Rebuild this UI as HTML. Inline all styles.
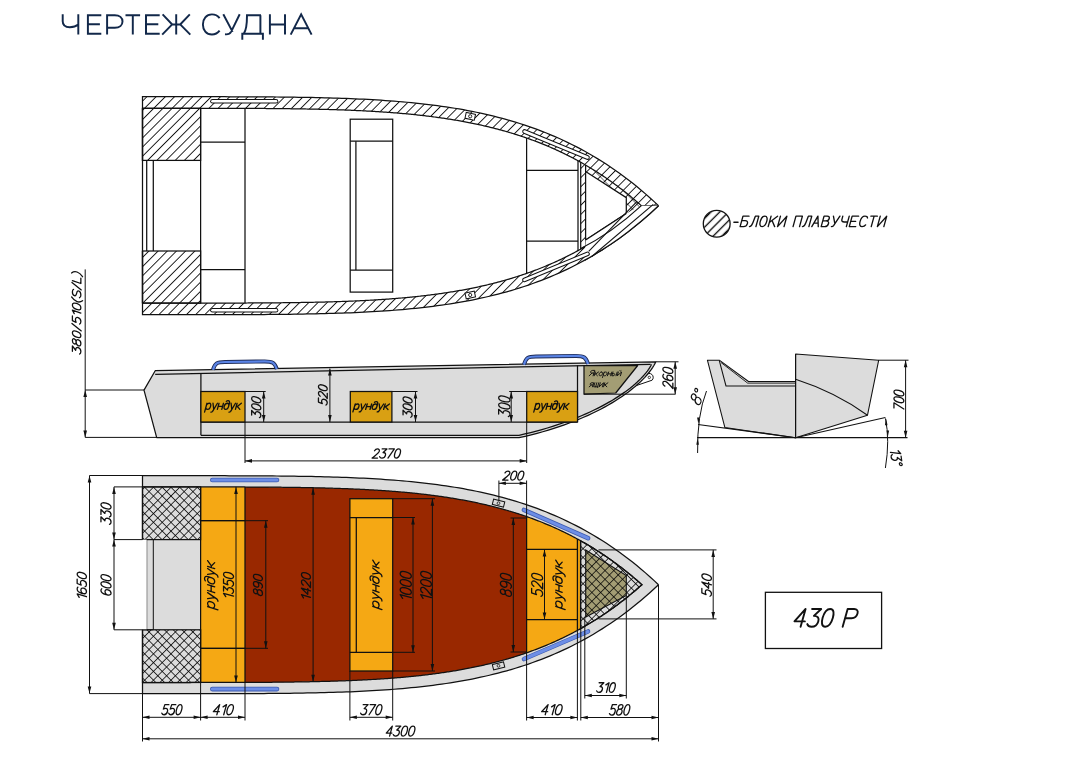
<!DOCTYPE html>
<html><head><meta charset="utf-8">
<style>
html,body{margin:0;padding:0;background:#fff;}
body{width:1069px;height:772px;overflow:hidden;position:relative;}
svg{position:absolute;left:0;top:0;}
.t{font-family:"Liberation Sans",sans-serif;}
</style></head><body>
<svg width="1069" height="772" viewBox="0 0 1069 772">
<defs>
<pattern id="h45" patternUnits="userSpaceOnUse" width="6.5" height="6.5" patternTransform="translate(4,0) rotate(45)"><line x1="0" y1="-1" x2="0" y2="8" stroke="#000" stroke-width="1.7"/></pattern>
<pattern id="h135" patternUnits="userSpaceOnUse" width="6.5" height="6.5" patternTransform="rotate(-45)"><line x1="0" y1="-1" x2="0" y2="8" stroke="#161616" stroke-width="1.1"/></pattern>
<pattern id="xh" patternUnits="userSpaceOnUse" width="6.2" height="6.2" patternTransform="rotate(45)"><rect width="6.2" height="6.2" fill="#dcdcdc"/><line x1="0" y1="-1" x2="0" y2="8" stroke="#000" stroke-width="1.5"/><line x1="-1" y1="0" x2="8" y2="0" stroke="#000" stroke-width="1.5"/></pattern>
<pattern id="hleg" patternUnits="userSpaceOnUse" width="6.2" height="6.2" patternTransform="translate(716.7,223.8) rotate(45) translate(-3.1,0)"><line x1="3.1" y1="-1" x2="3.1" y2="8" stroke="#000" stroke-width="1.3"/></pattern>
<pattern id="xho" patternUnits="userSpaceOnUse" width="6.2" height="6.2" patternTransform="rotate(45)"><rect width="6.2" height="6.2" fill="#a39d74"/><line x1="0" y1="-1" x2="0" y2="8" stroke="#000" stroke-width="1.4"/><line x1="-1" y1="0" x2="8" y2="0" stroke="#000" stroke-width="1.4"/></pattern>
</defs>
<path d="M62.7,14.3 V21.3 C62.7,25.3 65.3,27.3 69.8,27.3 C73.3,27.3 76.3,26.3 78.3,24.6 M78.3,14.3 V34.6 M101.3,15.25 H87.9 V33.65 H101.3 M87.9,24.3 H99.9 M107.1,34.6 V15.25 H114.8 C119.6,15.25 122.5,17.9 122.5,21.5 C122.5,25.1 119.6,27.8 114.8,27.8 H107.1 M125.5,15.25 H140.1 M132.8,15.25 V34.6 M159.7,15.25 H146 V33.65 H159.7 M146,24.3 H158.3 M176.2,14.3 V34.6 M162.6,14.3 L172.2,24.4 H180.2 L189.8,14.3 M162.2,34.6 L172.2,24.4 M190.3,34.6 L180.2,24.4 M219.6,18.2 C217.7,15.7 215,14.4 211.9,14.4 C206.3,14.4 202.9,18.9 202.9,24.45 C202.9,30 206.3,34.5 211.9,34.5 C215,34.5 217.7,33.2 219.6,30.7 M223.3,14.3 L232.6,31.9 M239.7,14.3 L231.2,31.6 C229.9,34.1 228.4,34.7 225,34.3 M261,15.25 H247 C247,24 246.5,30 243.8,33.6 M260.4,15.25 V33.65 M242.3,39.7 V33.65 H262.9 V39.7 M269.9,14.3 V34.6 M285,14.3 V34.6 M269.9,24.5 H285 M290.7,34.6 L301.15,14.3 L311.6,34.6 M293.9,28.3 H308.4" fill="none" stroke="#12284a" stroke-width="1.95" stroke-linejoin="miter"/>
<path d="M142.50,96.70 146.84,96.70 151.17,96.70 155.51,96.70 159.84,96.70 164.18,96.70 168.52,96.70 172.85,96.70 177.19,96.70 181.53,96.70 185.86,96.70 190.20,96.70 194.53,96.71 198.87,96.71 203.21,96.71 207.54,96.72 211.88,96.72 216.21,96.73 220.55,96.73 224.89,96.74 229.22,96.75 233.56,96.76 237.89,96.77 242.23,96.79 246.57,96.80 250.90,96.82 255.24,96.84 259.58,96.87 263.91,96.89 268.25,96.92 272.58,96.96 276.92,97.00 281.26,97.04 285.59,97.09 289.93,97.14 294.26,97.20 298.60,97.26 302.94,97.33 307.27,97.41 311.61,97.49 315.95,97.58 320.28,97.68 324.62,97.79 328.95,97.91 333.29,98.03 337.63,98.17 341.96,98.32 346.30,98.47 350.63,98.64 354.97,98.83 359.31,99.02 363.64,99.23 367.98,99.46 372.32,99.70 376.65,99.95 380.99,100.22 385.32,100.51 389.66,100.82 394.00,101.15 398.33,101.50 402.67,101.86 407.00,102.25 411.34,102.67 415.68,103.10 420.01,103.56 424.35,104.05 428.68,104.56 433.02,105.10 437.36,105.67 441.69,106.27 446.03,106.90 450.37,107.56 454.70,108.25 459.04,108.98 463.37,109.74 467.71,110.54 472.05,111.38 476.38,112.26 480.72,113.18 485.05,114.14 489.39,115.14 493.73,116.19 498.06,117.29 502.40,118.43 506.74,119.62 511.07,120.86 515.41,122.15 519.74,123.50 524.08,124.90 528.42,126.36 532.75,127.87 537.09,129.45 541.42,131.09 545.76,132.79 550.10,134.56 554.43,136.39 558.77,138.30 563.11,140.27 567.44,142.32 571.78,144.44 576.11,146.63 580.45,148.91 584.79,151.27 589.12,153.70 593.46,156.23 597.79,158.84 602.13,161.53 606.47,164.32 610.80,167.20 615.14,170.18 619.47,173.26 623.81,176.43 628.15,179.71 632.48,183.09 636.82,186.57 641.16,190.17 645.49,193.88 649.83,197.70 654.16,201.64 658.50,205.70 658.50,205.70 654.16,209.76 649.83,213.70 645.49,217.52 641.16,221.23 636.82,224.83 632.48,228.31 628.15,231.69 623.81,234.97 619.47,238.14 615.14,241.22 610.80,244.20 606.47,247.08 602.13,249.87 597.79,252.56 593.46,255.17 589.12,257.70 584.79,260.13 580.45,262.49 576.11,264.77 571.78,266.96 567.44,269.08 563.11,271.13 558.77,273.10 554.43,275.01 550.10,276.84 545.76,278.61 541.42,280.31 537.09,281.95 532.75,283.53 528.42,285.04 524.08,286.50 519.74,287.90 515.41,289.25 511.07,290.54 506.74,291.78 502.40,292.97 498.06,294.11 493.73,295.21 489.39,296.26 485.05,297.26 480.72,298.22 476.38,299.14 472.05,300.02 467.71,300.86 463.37,301.66 459.04,302.42 454.70,303.15 450.37,303.84 446.03,304.50 441.69,305.13 437.36,305.73 433.02,306.30 428.68,306.84 424.35,307.35 420.01,307.84 415.68,308.30 411.34,308.73 407.00,309.15 402.67,309.54 398.33,309.90 394.00,310.25 389.66,310.58 385.32,310.89 380.99,311.18 376.65,311.45 372.32,311.70 367.98,311.94 363.64,312.17 359.31,312.38 354.97,312.57 350.63,312.76 346.30,312.93 341.96,313.08 337.63,313.23 333.29,313.37 328.95,313.49 324.62,313.61 320.28,313.72 315.95,313.82 311.61,313.91 307.27,313.99 302.94,314.07 298.60,314.14 294.26,314.20 289.93,314.26 285.59,314.31 281.26,314.36 276.92,314.40 272.58,314.44 268.25,314.48 263.91,314.51 259.58,314.53 255.24,314.56 250.90,314.58 246.57,314.60 242.23,314.61 237.89,314.63 233.56,314.64 229.22,314.65 224.89,314.66 220.55,314.67 216.21,314.67 211.88,314.68 207.54,314.68 203.21,314.69 198.87,314.69 194.53,314.69 190.20,314.70 185.86,314.70 181.53,314.70 177.19,314.70 172.85,314.70 168.52,314.70 164.18,314.70 159.84,314.70 155.51,314.70 151.17,314.70 146.84,314.70 142.50,314.70Z M142.50,303.10 143.79,303.10 145.09,303.10 146.38,303.10 147.67,303.10 148.97,303.10 150.26,303.10 151.55,303.10 152.85,303.10 154.14,303.10 155.43,303.10 156.73,303.10 158.02,303.10 159.31,303.10 160.60,303.10 161.90,303.10 163.19,303.10 164.48,303.10 165.78,303.10 167.07,303.10 168.36,303.10 169.66,303.10 170.95,303.10 172.24,303.10 173.54,303.10 174.83,303.10 176.12,303.10 177.42,303.10 178.71,303.10 180.00,303.10 181.29,303.10 182.59,303.10 183.88,303.10 185.17,303.10 186.47,303.10 187.76,303.10 189.05,303.10 190.35,303.10 191.64,303.09 192.93,303.09 194.22,303.09 195.52,303.09 196.81,303.09 198.10,303.09 199.40,303.09 200.69,303.09 201.98,303.09 203.27,303.09 204.57,303.09 205.86,303.09 207.15,303.08 208.44,303.08 209.74,303.08 211.03,303.08 212.32,303.08 213.61,303.08 214.91,303.08 216.20,303.07 217.49,303.07 218.78,303.07 220.08,303.07 221.37,303.07 222.66,303.06 223.95,303.06 225.24,303.06 226.54,303.06 227.83,303.05 229.12,303.05 230.41,303.05 231.70,303.05 233.00,303.04 234.29,303.04 235.58,303.04 236.87,303.03 238.16,303.03 239.46,303.02 240.75,303.02 242.04,303.01 243.33,303.01 244.62,303.01 245.91,303.00 247.20,303.00 248.50,302.99 249.79,302.98 251.08,302.98 252.37,302.97 253.66,302.97 254.95,302.96 256.24,302.95 257.53,302.95 258.82,302.94 260.11,302.93 261.40,302.92 262.70,302.91 263.99,302.91 265.28,302.90 266.57,302.89 267.86,302.88 269.15,302.87 270.44,302.86 271.73,302.85 273.02,302.84 274.31,302.83 275.60,302.81 276.89,302.80 278.18,302.79 279.47,302.78 280.76,302.76 282.05,302.75 283.34,302.74 284.62,302.72 285.91,302.71 287.20,302.69 288.49,302.68 289.78,302.66 291.07,302.64 292.36,302.63 293.65,302.61 294.94,302.59 296.22,302.57 297.51,302.55 298.80,302.53 300.09,302.51 301.38,302.49 302.67,302.47 303.95,302.45 305.24,302.43 306.53,302.40 307.82,302.38 309.10,302.36 310.39,302.33 311.68,302.30 312.97,302.28 314.25,302.25 315.54,302.22 316.83,302.19 318.11,302.17 319.40,302.14 320.69,302.10 321.97,302.07 323.26,302.04 324.54,302.01 325.83,301.97 327.12,301.94 328.40,301.90 329.69,301.87 330.97,301.83 332.26,301.79 333.54,301.75 334.83,301.71 336.11,301.67 337.40,301.63 338.68,301.59 339.97,301.55 341.25,301.50 342.54,301.46 343.82,301.41 345.10,301.36 346.39,301.31 347.67,301.26 348.96,301.21 350.24,301.16 351.52,301.11 352.80,301.06 354.09,301.00 355.37,300.94 356.65,300.89 357.94,300.83 359.22,300.77 360.50,300.71 361.78,300.65 363.06,300.58 364.35,300.52 365.63,300.45 366.91,300.38 368.19,300.32 369.47,300.25 370.75,300.17 372.03,300.10 373.31,300.03 374.59,299.95 375.87,299.87 377.15,299.80 378.43,299.72 379.71,299.63 380.99,299.55 382.27,299.47 383.55,299.38 384.83,299.29 386.11,299.20 387.38,299.11 388.66,299.02 389.94,298.93 391.22,298.83 392.50,298.73 393.77,298.63 395.05,298.53 396.33,298.43 397.60,298.32 398.88,298.22 400.16,298.11 401.43,298.00 402.71,297.89 403.99,297.77 405.26,297.66 406.54,297.54 407.81,297.42 409.09,297.30 410.36,297.17 411.64,297.05 412.91,296.92 414.18,296.79 415.46,296.66 416.73,296.52 418.01,296.39 419.28,296.25 420.55,296.11 421.82,295.96 423.10,295.82 424.37,295.67 425.64,295.52 426.91,295.37 428.19,295.21 429.46,295.06 430.73,294.90 432.00,294.74 433.27,294.57 434.54,294.40 435.81,294.23 437.08,294.06 438.35,293.89 439.62,293.71 440.89,293.53 442.16,293.35 443.43,293.16 444.70,292.97 445.96,292.78 447.23,292.59 448.50,292.39 449.77,292.19 451.04,291.99 452.30,291.79 453.57,291.58 454.84,291.37 456.10,291.15 457.37,290.94 458.63,290.72 459.90,290.49 461.17,290.27 462.43,290.04 463.70,289.80 464.96,289.57 466.23,289.33 467.49,289.09 468.75,288.84 470.02,288.59 471.28,288.34 472.54,288.09 473.81,287.83 475.07,287.56 476.33,287.30 477.60,287.03 478.86,286.75 480.12,286.48 481.38,286.20 482.64,285.91 483.90,285.63 485.16,285.33 486.42,285.04 487.68,284.74 488.94,284.44 490.20,284.13 491.46,283.82 492.72,283.50 493.98,283.19 495.24,282.86 496.50,282.54 497.76,282.21 499.02,281.87 500.28,281.53 501.53,281.19 502.79,280.84 504.05,280.49 505.31,280.13 506.56,279.77 507.82,279.41 509.08,279.04 510.33,278.66 511.59,278.29 512.84,277.90 514.10,277.52 515.35,277.12 516.61,276.73 517.86,276.33 519.12,275.92 520.37,275.51 521.63,275.09 522.88,274.67 524.14,274.25 525.39,273.82 526.64,273.38 527.90,272.94 529.15,272.49 530.40,272.04 531.66,271.59 532.91,271.13 534.16,270.66 535.41,270.19 536.67,269.71 537.92,269.23 539.17,268.74 540.42,268.25 541.67,267.75 542.92,267.24 544.18,266.73 545.43,266.22 546.68,265.70 547.93,265.17 549.18,264.64 550.43,264.10 551.68,263.55 552.93,263.00 554.18,262.45 555.43,261.88 556.68,261.32 557.93,260.74 559.18,260.16 560.43,259.57 561.68,258.98 562.93,258.38 564.18,257.77 565.43,257.16 566.68,256.54 567.93,255.92 569.18,255.28 570.43,254.64 571.68,254.00 572.93,253.35 574.18,252.69 575.43,252.02 576.68,251.35 577.92,250.67 579.17,249.98 580.42,249.29 581.67,248.59 582.92,247.88 584.17,247.16 585.42,246.44 586.67,245.71 587.92,244.97 589.17,244.23 590.42,243.47 591.67,242.71 592.92,241.95 594.16,241.17 595.41,240.39 596.66,239.60 597.91,238.80 599.16,237.99 600.41,237.18 601.66,236.35 602.91,235.52 604.16,234.68 605.41,233.84 606.66,232.98 607.91,232.12 609.16,231.24 610.41,230.36 611.66,229.47 612.91,228.57 614.17,227.67 615.42,226.75 616.67,225.83 617.92,224.89 619.17,223.95 620.42,223.00 621.67,222.04 622.93,221.07 624.18,220.09 625.43,219.10 626.68,218.11 627.93,217.10 629.19,216.08 630.44,215.06 631.69,214.02 632.95,212.98 634.20,211.92 635.45,210.86 636.71,209.78 637.96,208.70 639.21,207.60 640.47,206.50 641.37,205.70 641.37,205.70 640.47,204.90 639.21,203.80 637.96,202.70 636.71,201.62 635.45,200.54 634.20,199.48 632.95,198.42 631.69,197.38 630.44,196.34 629.19,195.32 627.93,194.30 626.68,193.29 625.43,192.30 624.18,191.31 622.93,190.33 621.67,189.36 620.42,188.40 619.17,187.45 617.92,186.51 616.67,185.57 615.42,184.65 614.17,183.73 612.91,182.83 611.66,181.93 610.41,181.04 609.16,180.16 607.91,179.28 606.66,178.42 605.41,177.56 604.16,176.72 602.91,175.88 601.66,175.05 600.41,174.22 599.16,173.41 597.91,172.60 596.66,171.80 595.41,171.01 594.16,170.23 592.92,169.45 591.67,168.69 590.42,167.93 589.17,167.17 587.92,166.43 586.67,165.69 585.42,164.96 584.17,164.24 582.92,163.52 581.67,162.81 580.42,162.11 579.17,161.42 577.92,160.73 576.68,160.05 575.43,159.38 574.18,158.71 572.93,158.05 571.68,157.40 570.43,156.76 569.18,156.12 567.93,155.48 566.68,154.86 565.43,154.24 564.18,153.63 562.93,153.02 561.68,152.42 560.43,151.83 559.18,151.24 557.93,150.66 556.68,150.08 555.43,149.52 554.18,148.95 552.93,148.40 551.68,147.85 550.43,147.30 549.18,146.76 547.93,146.23 546.68,145.70 545.43,145.18 544.18,144.67 542.92,144.16 541.67,143.65 540.42,143.15 539.17,142.66 537.92,142.17 536.67,141.69 535.41,141.21 534.16,140.74 532.91,140.27 531.66,139.81 530.40,139.36 529.15,138.91 527.90,138.46 526.64,138.02 525.39,137.58 524.14,137.15 522.88,136.73 521.63,136.31 520.37,135.89 519.12,135.48 517.86,135.07 516.61,134.67 515.35,134.28 514.10,133.88 512.84,133.50 511.59,133.11 510.33,132.74 509.08,132.36 507.82,131.99 506.56,131.63 505.31,131.27 504.05,130.91 502.79,130.56 501.53,130.21 500.28,129.87 499.02,129.53 497.76,129.19 496.50,128.86 495.24,128.54 493.98,128.21 492.72,127.90 491.46,127.58 490.20,127.27 488.94,126.96 487.68,126.66 486.42,126.36 485.16,126.07 483.90,125.77 482.64,125.49 481.38,125.20 480.12,124.92 478.86,124.65 477.60,124.37 476.33,124.10 475.07,123.84 473.81,123.57 472.54,123.31 471.28,123.06 470.02,122.81 468.75,122.56 467.49,122.31 466.23,122.07 464.96,121.83 463.70,121.60 462.43,121.36 461.17,121.13 459.90,120.91 458.63,120.68 457.37,120.46 456.10,120.25 454.84,120.03 453.57,119.82 452.30,119.61 451.04,119.41 449.77,119.21 448.50,119.01 447.23,118.81 445.96,118.62 444.70,118.43 443.43,118.24 442.16,118.05 440.89,117.87 439.62,117.69 438.35,117.51 437.08,117.34 435.81,117.17 434.54,117.00 433.27,116.83 432.00,116.66 430.73,116.50 429.46,116.34 428.19,116.19 426.91,116.03 425.64,115.88 424.37,115.73 423.10,115.58 421.82,115.44 420.55,115.29 419.28,115.15 418.01,115.01 416.73,114.88 415.46,114.74 414.18,114.61 412.91,114.48 411.64,114.35 410.36,114.23 409.09,114.10 407.81,113.98 406.54,113.86 405.26,113.74 403.99,113.63 402.71,113.51 401.43,113.40 400.16,113.29 398.88,113.18 397.60,113.08 396.33,112.97 395.05,112.87 393.77,112.77 392.50,112.67 391.22,112.57 389.94,112.47 388.66,112.38 387.38,112.29 386.11,112.20 384.83,112.11 383.55,112.02 382.27,111.93 380.99,111.85 379.71,111.77 378.43,111.68 377.15,111.60 375.87,111.53 374.59,111.45 373.31,111.37 372.03,111.30 370.75,111.23 369.47,111.15 368.19,111.08 366.91,111.02 365.63,110.95 364.35,110.88 363.06,110.82 361.78,110.75 360.50,110.69 359.22,110.63 357.94,110.57 356.65,110.51 355.37,110.46 354.09,110.40 352.80,110.34 351.52,110.29 350.24,110.24 348.96,110.19 347.67,110.14 346.39,110.09 345.10,110.04 343.82,109.99 342.54,109.94 341.25,109.90 339.97,109.85 338.68,109.81 337.40,109.77 336.11,109.73 334.83,109.69 333.54,109.65 332.26,109.61 330.97,109.57 329.69,109.53 328.40,109.50 327.12,109.46 325.83,109.43 324.54,109.39 323.26,109.36 321.97,109.33 320.69,109.30 319.40,109.26 318.11,109.23 316.83,109.21 315.54,109.18 314.25,109.15 312.97,109.12 311.68,109.10 310.39,109.07 309.10,109.04 307.82,109.02 306.53,109.00 305.24,108.97 303.95,108.95 302.67,108.93 301.38,108.91 300.09,108.89 298.80,108.87 297.51,108.85 296.22,108.83 294.94,108.81 293.65,108.79 292.36,108.77 291.07,108.76 289.78,108.74 288.49,108.72 287.20,108.71 285.91,108.69 284.62,108.68 283.34,108.66 282.05,108.65 280.76,108.64 279.47,108.62 278.18,108.61 276.89,108.60 275.60,108.59 274.31,108.57 273.02,108.56 271.73,108.55 270.44,108.54 269.15,108.53 267.86,108.52 266.57,108.51 265.28,108.50 263.99,108.49 262.70,108.49 261.40,108.48 260.11,108.47 258.82,108.46 257.53,108.45 256.24,108.45 254.95,108.44 253.66,108.43 252.37,108.43 251.08,108.42 249.79,108.42 248.50,108.41 247.20,108.40 245.91,108.40 244.62,108.39 243.33,108.39 242.04,108.39 240.75,108.38 239.46,108.38 238.16,108.37 236.87,108.37 235.58,108.36 234.29,108.36 233.00,108.36 231.70,108.35 230.41,108.35 229.12,108.35 227.83,108.35 226.54,108.34 225.24,108.34 223.95,108.34 222.66,108.34 221.37,108.33 220.08,108.33 218.78,108.33 217.49,108.33 216.20,108.33 214.91,108.32 213.61,108.32 212.32,108.32 211.03,108.32 209.74,108.32 208.44,108.32 207.15,108.32 205.86,108.31 204.57,108.31 203.27,108.31 201.98,108.31 200.69,108.31 199.40,108.31 198.10,108.31 196.81,108.31 195.52,108.31 194.22,108.31 192.93,108.31 191.64,108.31 190.35,108.30 189.05,108.30 187.76,108.30 186.47,108.30 185.17,108.30 183.88,108.30 182.59,108.30 181.29,108.30 180.00,108.30 178.71,108.30 177.42,108.30 176.12,108.30 174.83,108.30 173.54,108.30 172.24,108.30 170.95,108.30 169.66,108.30 168.36,108.30 167.07,108.30 165.78,108.30 164.48,108.30 163.19,108.30 161.90,108.30 160.60,108.30 159.31,108.30 158.02,108.30 156.73,108.30 155.43,108.30 154.14,108.30 152.85,108.30 151.55,108.30 150.26,108.30 148.97,108.30 147.67,108.30 146.38,108.30 145.09,108.30 143.79,108.30 142.50,108.30Z" fill="url(#h45)" fill-rule="evenodd"/>
<rect x="142.5" y="108.30" width="58.1" height="52.10" fill="url(#h45)" stroke="#111111" stroke-width="1.25"/>
<rect x="142.5" y="251" width="58.1" height="52.10" fill="url(#h45)" stroke="#111111" stroke-width="1.25"/>
<polyline points="142.50,160.40 142.50,96.70 146.84,96.70 151.17,96.70 155.51,96.70 159.84,96.70 164.18,96.70 168.52,96.70 172.85,96.70 177.19,96.70 181.53,96.70 185.86,96.70 190.20,96.70 194.53,96.71 198.87,96.71 203.21,96.71 207.54,96.72 211.88,96.72 216.21,96.73 220.55,96.73 224.89,96.74 229.22,96.75 233.56,96.76 237.89,96.77 242.23,96.79 246.57,96.80 250.90,96.82 255.24,96.84 259.58,96.87 263.91,96.89 268.25,96.92 272.58,96.96 276.92,97.00 281.26,97.04 285.59,97.09 289.93,97.14 294.26,97.20 298.60,97.26 302.94,97.33 307.27,97.41 311.61,97.49 315.95,97.58 320.28,97.68 324.62,97.79 328.95,97.91 333.29,98.03 337.63,98.17 341.96,98.32 346.30,98.47 350.63,98.64 354.97,98.83 359.31,99.02 363.64,99.23 367.98,99.46 372.32,99.70 376.65,99.95 380.99,100.22 385.32,100.51 389.66,100.82 394.00,101.15 398.33,101.50 402.67,101.86 407.00,102.25 411.34,102.67 415.68,103.10 420.01,103.56 424.35,104.05 428.68,104.56 433.02,105.10 437.36,105.67 441.69,106.27 446.03,106.90 450.37,107.56 454.70,108.25 459.04,108.98 463.37,109.74 467.71,110.54 472.05,111.38 476.38,112.26 480.72,113.18 485.05,114.14 489.39,115.14 493.73,116.19 498.06,117.29 502.40,118.43 506.74,119.62 511.07,120.86 515.41,122.15 519.74,123.50 524.08,124.90 528.42,126.36 532.75,127.87 537.09,129.45 541.42,131.09 545.76,132.79 550.10,134.56 554.43,136.39 558.77,138.30 563.11,140.27 567.44,142.32 571.78,144.44 576.11,146.63 580.45,148.91 584.79,151.27 589.12,153.70 593.46,156.23 597.79,158.84 602.13,161.53 606.47,164.32 610.80,167.20 615.14,170.18 619.47,173.26 623.81,176.43 628.15,179.71 632.48,183.09 636.82,186.57 641.16,190.17 645.49,193.88 649.83,197.70 654.16,201.64 658.50,205.70" fill="none" stroke="#111111" stroke-width="1.25"/>
<polyline points="658.50,205.70 654.16,209.76 649.83,213.70 645.49,217.52 641.16,221.23 636.82,224.83 632.48,228.31 628.15,231.69 623.81,234.97 619.47,238.14 615.14,241.22 610.80,244.20 606.47,247.08 602.13,249.87 597.79,252.56 593.46,255.17 589.12,257.70 584.79,260.13 580.45,262.49 576.11,264.77 571.78,266.96 567.44,269.08 563.11,271.13 558.77,273.10 554.43,275.01 550.10,276.84 545.76,278.61 541.42,280.31 537.09,281.95 532.75,283.53 528.42,285.04 524.08,286.50 519.74,287.90 515.41,289.25 511.07,290.54 506.74,291.78 502.40,292.97 498.06,294.11 493.73,295.21 489.39,296.26 485.05,297.26 480.72,298.22 476.38,299.14 472.05,300.02 467.71,300.86 463.37,301.66 459.04,302.42 454.70,303.15 450.37,303.84 446.03,304.50 441.69,305.13 437.36,305.73 433.02,306.30 428.68,306.84 424.35,307.35 420.01,307.84 415.68,308.30 411.34,308.73 407.00,309.15 402.67,309.54 398.33,309.90 394.00,310.25 389.66,310.58 385.32,310.89 380.99,311.18 376.65,311.45 372.32,311.70 367.98,311.94 363.64,312.17 359.31,312.38 354.97,312.57 350.63,312.76 346.30,312.93 341.96,313.08 337.63,313.23 333.29,313.37 328.95,313.49 324.62,313.61 320.28,313.72 315.95,313.82 311.61,313.91 307.27,313.99 302.94,314.07 298.60,314.14 294.26,314.20 289.93,314.26 285.59,314.31 281.26,314.36 276.92,314.40 272.58,314.44 268.25,314.48 263.91,314.51 259.58,314.53 255.24,314.56 250.90,314.58 246.57,314.60 242.23,314.61 237.89,314.63 233.56,314.64 229.22,314.65 224.89,314.66 220.55,314.67 216.21,314.67 211.88,314.68 207.54,314.68 203.21,314.69 198.87,314.69 194.53,314.69 190.20,314.70 185.86,314.70 181.53,314.70 177.19,314.70 172.85,314.70 168.52,314.70 164.18,314.70 159.84,314.70 155.51,314.70 151.17,314.70 146.84,314.70 142.50,314.70 142.50,251.00" fill="none" stroke="#111111" stroke-width="1.25"/>
<polygon points="142.50,108.30 143.79,108.30 145.09,108.30 146.38,108.30 147.67,108.30 148.97,108.30 150.26,108.30 151.55,108.30 152.85,108.30 154.14,108.30 155.43,108.30 156.73,108.30 158.02,108.30 159.31,108.30 160.60,108.30 161.90,108.30 163.19,108.30 164.48,108.30 165.78,108.30 167.07,108.30 168.36,108.30 169.66,108.30 170.95,108.30 172.24,108.30 173.54,108.30 174.83,108.30 176.12,108.30 177.42,108.30 178.71,108.30 180.00,108.30 181.29,108.30 182.59,108.30 183.88,108.30 185.17,108.30 186.47,108.30 187.76,108.30 189.05,108.30 190.35,108.30 191.64,108.31 192.93,108.31 194.22,108.31 195.52,108.31 196.81,108.31 198.10,108.31 199.40,108.31 200.69,108.31 201.98,108.31 203.27,108.31 204.57,108.31 205.86,108.31 207.15,108.32 208.44,108.32 209.74,108.32 211.03,108.32 212.32,108.32 213.61,108.32 214.91,108.32 216.20,108.33 217.49,108.33 218.78,108.33 220.08,108.33 221.37,108.33 222.66,108.34 223.95,108.34 225.24,108.34 226.54,108.34 227.83,108.35 229.12,108.35 230.41,108.35 231.70,108.35 233.00,108.36 234.29,108.36 235.58,108.36 236.87,108.37 238.16,108.37 239.46,108.38 240.75,108.38 242.04,108.39 243.33,108.39 244.62,108.39 245.91,108.40 247.20,108.40 248.50,108.41 249.79,108.42 251.08,108.42 252.37,108.43 253.66,108.43 254.95,108.44 256.24,108.45 257.53,108.45 258.82,108.46 260.11,108.47 261.40,108.48 262.70,108.49 263.99,108.49 265.28,108.50 266.57,108.51 267.86,108.52 269.15,108.53 270.44,108.54 271.73,108.55 273.02,108.56 274.31,108.57 275.60,108.59 276.89,108.60 278.18,108.61 279.47,108.62 280.76,108.64 282.05,108.65 283.34,108.66 284.62,108.68 285.91,108.69 287.20,108.71 288.49,108.72 289.78,108.74 291.07,108.76 292.36,108.77 293.65,108.79 294.94,108.81 296.22,108.83 297.51,108.85 298.80,108.87 300.09,108.89 301.38,108.91 302.67,108.93 303.95,108.95 305.24,108.97 306.53,109.00 307.82,109.02 309.10,109.04 310.39,109.07 311.68,109.10 312.97,109.12 314.25,109.15 315.54,109.18 316.83,109.21 318.11,109.23 319.40,109.26 320.69,109.30 321.97,109.33 323.26,109.36 324.54,109.39 325.83,109.43 327.12,109.46 328.40,109.50 329.69,109.53 330.97,109.57 332.26,109.61 333.54,109.65 334.83,109.69 336.11,109.73 337.40,109.77 338.68,109.81 339.97,109.85 341.25,109.90 342.54,109.94 343.82,109.99 345.10,110.04 346.39,110.09 347.67,110.14 348.96,110.19 350.24,110.24 351.52,110.29 352.80,110.34 354.09,110.40 355.37,110.46 356.65,110.51 357.94,110.57 359.22,110.63 360.50,110.69 361.78,110.75 363.06,110.82 364.35,110.88 365.63,110.95 366.91,111.02 368.19,111.08 369.47,111.15 370.75,111.23 372.03,111.30 373.31,111.37 374.59,111.45 375.87,111.53 377.15,111.60 378.43,111.68 379.71,111.77 380.99,111.85 382.27,111.93 383.55,112.02 384.83,112.11 386.11,112.20 387.38,112.29 388.66,112.38 389.94,112.47 391.22,112.57 392.50,112.67 393.77,112.77 395.05,112.87 396.33,112.97 397.60,113.08 398.88,113.18 400.16,113.29 401.43,113.40 402.71,113.51 403.99,113.63 405.26,113.74 406.54,113.86 407.81,113.98 409.09,114.10 410.36,114.23 411.64,114.35 412.91,114.48 414.18,114.61 415.46,114.74 416.73,114.88 418.01,115.01 419.28,115.15 420.55,115.29 421.82,115.44 423.10,115.58 424.37,115.73 425.64,115.88 426.91,116.03 428.19,116.19 429.46,116.34 430.73,116.50 432.00,116.66 433.27,116.83 434.54,117.00 435.81,117.17 437.08,117.34 438.35,117.51 439.62,117.69 440.89,117.87 442.16,118.05 443.43,118.24 444.70,118.43 445.96,118.62 447.23,118.81 448.50,119.01 449.77,119.21 451.04,119.41 452.30,119.61 453.57,119.82 454.84,120.03 456.10,120.25 457.37,120.46 458.63,120.68 459.90,120.91 461.17,121.13 462.43,121.36 463.70,121.60 464.96,121.83 466.23,122.07 467.49,122.31 468.75,122.56 470.02,122.81 471.28,123.06 472.54,123.31 473.81,123.57 475.07,123.84 476.33,124.10 477.60,124.37 478.86,124.65 480.12,124.92 481.38,125.20 482.64,125.49 483.90,125.77 485.16,126.07 486.42,126.36 487.68,126.66 488.94,126.96 490.20,127.27 491.46,127.58 492.72,127.90 493.98,128.21 495.24,128.54 496.50,128.86 497.76,129.19 499.02,129.53 500.28,129.87 501.53,130.21 502.79,130.56 504.05,130.91 505.31,131.27 506.56,131.63 507.82,131.99 509.08,132.36 510.33,132.74 511.59,133.11 512.84,133.50 514.10,133.88 515.35,134.28 516.61,134.67 517.86,135.07 519.12,135.48 520.37,135.89 521.63,136.31 522.88,136.73 524.14,137.15 525.39,137.58 526.64,138.02 527.90,138.46 529.15,138.91 530.40,139.36 531.66,139.81 532.91,140.27 534.16,140.74 535.41,141.21 536.67,141.69 537.92,142.17 539.17,142.66 540.42,143.15 541.67,143.65 542.92,144.16 544.18,144.67 545.43,145.18 546.68,145.70 547.93,146.23 549.18,146.76 550.43,147.30 551.68,147.85 552.93,148.40 554.18,148.95 555.43,149.52 556.68,150.08 557.93,150.66 559.18,151.24 560.43,151.83 561.68,152.42 562.93,153.02 564.18,153.63 565.43,154.24 566.68,154.86 567.93,155.48 569.18,156.12 570.43,156.76 571.68,157.40 572.93,158.05 574.18,158.71 575.43,159.38 576.68,160.05 577.92,160.73 579.17,161.42 580.42,162.11 581.67,162.81 582.92,163.52 584.17,164.24 585.42,164.96 586.67,165.69 587.92,166.43 589.17,167.17 590.42,167.93 591.67,168.69 592.92,169.45 594.16,170.23 595.41,171.01 596.66,171.80 597.91,172.60 599.16,173.41 600.41,174.22 601.66,175.05 602.91,175.88 604.16,176.72 605.41,177.56 606.66,178.42 607.91,179.28 609.16,180.16 610.41,181.04 611.66,181.93 612.91,182.83 614.17,183.73 615.42,184.65 616.67,185.57 617.92,186.51 619.17,187.45 620.42,188.40 621.67,189.36 622.93,190.33 624.18,191.31 625.43,192.30 626.68,193.29 627.93,194.30 629.19,195.32 630.44,196.34 631.69,197.38 632.95,198.42 634.20,199.48 635.45,200.54 636.71,201.62 637.96,202.70 639.21,203.80 640.47,204.90 641.37,205.70 641.37,205.70 640.47,206.50 639.21,207.60 637.96,208.70 636.71,209.78 635.45,210.86 634.20,211.92 632.95,212.98 631.69,214.02 630.44,215.06 629.19,216.08 627.93,217.10 626.68,218.11 625.43,219.10 624.18,220.09 622.93,221.07 621.67,222.04 620.42,223.00 619.17,223.95 617.92,224.89 616.67,225.83 615.42,226.75 614.17,227.67 612.91,228.57 611.66,229.47 610.41,230.36 609.16,231.24 607.91,232.12 606.66,232.98 605.41,233.84 604.16,234.68 602.91,235.52 601.66,236.35 600.41,237.18 599.16,237.99 597.91,238.80 596.66,239.60 595.41,240.39 594.16,241.17 592.92,241.95 591.67,242.71 590.42,243.47 589.17,244.23 587.92,244.97 586.67,245.71 585.42,246.44 584.17,247.16 582.92,247.88 581.67,248.59 580.42,249.29 579.17,249.98 577.92,250.67 576.68,251.35 575.43,252.02 574.18,252.69 572.93,253.35 571.68,254.00 570.43,254.64 569.18,255.28 567.93,255.92 566.68,256.54 565.43,257.16 564.18,257.77 562.93,258.38 561.68,258.98 560.43,259.57 559.18,260.16 557.93,260.74 556.68,261.32 555.43,261.88 554.18,262.45 552.93,263.00 551.68,263.55 550.43,264.10 549.18,264.64 547.93,265.17 546.68,265.70 545.43,266.22 544.18,266.73 542.92,267.24 541.67,267.75 540.42,268.25 539.17,268.74 537.92,269.23 536.67,269.71 535.41,270.19 534.16,270.66 532.91,271.13 531.66,271.59 530.40,272.04 529.15,272.49 527.90,272.94 526.64,273.38 525.39,273.82 524.14,274.25 522.88,274.67 521.63,275.09 520.37,275.51 519.12,275.92 517.86,276.33 516.61,276.73 515.35,277.12 514.10,277.52 512.84,277.90 511.59,278.29 510.33,278.66 509.08,279.04 507.82,279.41 506.56,279.77 505.31,280.13 504.05,280.49 502.79,280.84 501.53,281.19 500.28,281.53 499.02,281.87 497.76,282.21 496.50,282.54 495.24,282.86 493.98,283.19 492.72,283.50 491.46,283.82 490.20,284.13 488.94,284.44 487.68,284.74 486.42,285.04 485.16,285.33 483.90,285.63 482.64,285.91 481.38,286.20 480.12,286.48 478.86,286.75 477.60,287.03 476.33,287.30 475.07,287.56 473.81,287.83 472.54,288.09 471.28,288.34 470.02,288.59 468.75,288.84 467.49,289.09 466.23,289.33 464.96,289.57 463.70,289.80 462.43,290.04 461.17,290.27 459.90,290.49 458.63,290.72 457.37,290.94 456.10,291.15 454.84,291.37 453.57,291.58 452.30,291.79 451.04,291.99 449.77,292.19 448.50,292.39 447.23,292.59 445.96,292.78 444.70,292.97 443.43,293.16 442.16,293.35 440.89,293.53 439.62,293.71 438.35,293.89 437.08,294.06 435.81,294.23 434.54,294.40 433.27,294.57 432.00,294.74 430.73,294.90 429.46,295.06 428.19,295.21 426.91,295.37 425.64,295.52 424.37,295.67 423.10,295.82 421.82,295.96 420.55,296.11 419.28,296.25 418.01,296.39 416.73,296.52 415.46,296.66 414.18,296.79 412.91,296.92 411.64,297.05 410.36,297.17 409.09,297.30 407.81,297.42 406.54,297.54 405.26,297.66 403.99,297.77 402.71,297.89 401.43,298.00 400.16,298.11 398.88,298.22 397.60,298.32 396.33,298.43 395.05,298.53 393.77,298.63 392.50,298.73 391.22,298.83 389.94,298.93 388.66,299.02 387.38,299.11 386.11,299.20 384.83,299.29 383.55,299.38 382.27,299.47 380.99,299.55 379.71,299.63 378.43,299.72 377.15,299.80 375.87,299.87 374.59,299.95 373.31,300.03 372.03,300.10 370.75,300.17 369.47,300.25 368.19,300.32 366.91,300.38 365.63,300.45 364.35,300.52 363.06,300.58 361.78,300.65 360.50,300.71 359.22,300.77 357.94,300.83 356.65,300.89 355.37,300.94 354.09,301.00 352.80,301.06 351.52,301.11 350.24,301.16 348.96,301.21 347.67,301.26 346.39,301.31 345.10,301.36 343.82,301.41 342.54,301.46 341.25,301.50 339.97,301.55 338.68,301.59 337.40,301.63 336.11,301.67 334.83,301.71 333.54,301.75 332.26,301.79 330.97,301.83 329.69,301.87 328.40,301.90 327.12,301.94 325.83,301.97 324.54,302.01 323.26,302.04 321.97,302.07 320.69,302.10 319.40,302.14 318.11,302.17 316.83,302.19 315.54,302.22 314.25,302.25 312.97,302.28 311.68,302.30 310.39,302.33 309.10,302.36 307.82,302.38 306.53,302.40 305.24,302.43 303.95,302.45 302.67,302.47 301.38,302.49 300.09,302.51 298.80,302.53 297.51,302.55 296.22,302.57 294.94,302.59 293.65,302.61 292.36,302.63 291.07,302.64 289.78,302.66 288.49,302.68 287.20,302.69 285.91,302.71 284.62,302.72 283.34,302.74 282.05,302.75 280.76,302.76 279.47,302.78 278.18,302.79 276.89,302.80 275.60,302.81 274.31,302.83 273.02,302.84 271.73,302.85 270.44,302.86 269.15,302.87 267.86,302.88 266.57,302.89 265.28,302.90 263.99,302.91 262.70,302.91 261.40,302.92 260.11,302.93 258.82,302.94 257.53,302.95 256.24,302.95 254.95,302.96 253.66,302.97 252.37,302.97 251.08,302.98 249.79,302.98 248.50,302.99 247.20,303.00 245.91,303.00 244.62,303.01 243.33,303.01 242.04,303.01 240.75,303.02 239.46,303.02 238.16,303.03 236.87,303.03 235.58,303.04 234.29,303.04 233.00,303.04 231.70,303.05 230.41,303.05 229.12,303.05 227.83,303.05 226.54,303.06 225.24,303.06 223.95,303.06 222.66,303.06 221.37,303.07 220.08,303.07 218.78,303.07 217.49,303.07 216.20,303.07 214.91,303.08 213.61,303.08 212.32,303.08 211.03,303.08 209.74,303.08 208.44,303.08 207.15,303.08 205.86,303.09 204.57,303.09 203.27,303.09 201.98,303.09 200.69,303.09 199.40,303.09 198.10,303.09 196.81,303.09 195.52,303.09 194.22,303.09 192.93,303.09 191.64,303.09 190.35,303.10 189.05,303.10 187.76,303.10 186.47,303.10 185.17,303.10 183.88,303.10 182.59,303.10 181.29,303.10 180.00,303.10 178.71,303.10 177.42,303.10 176.12,303.10 174.83,303.10 173.54,303.10 172.24,303.10 170.95,303.10 169.66,303.10 168.36,303.10 167.07,303.10 165.78,303.10 164.48,303.10 163.19,303.10 161.90,303.10 160.60,303.10 159.31,303.10 158.02,303.10 156.73,303.10 155.43,303.10 154.14,303.10 152.85,303.10 151.55,303.10 150.26,303.10 148.97,303.10 147.67,303.10 146.38,303.10 145.09,303.10 143.79,303.10 142.50,303.10" fill="none" stroke="#111111" stroke-width="1.25" stroke-linejoin="round"/>
<line x1="146.7" y1="160.4" x2="146.7" y2="251" stroke="#111111" stroke-width="1.25" />
<line x1="153.3" y1="160.4" x2="153.3" y2="251" stroke="#111111" stroke-width="1.25" />
<line x1="200.6" y1="108.30000281634065" x2="200.6" y2="303.0999971836593" stroke="#111111" stroke-width="1.25" />
<line x1="245" y1="108.30000281634065" x2="245" y2="303.0999971836593" stroke="#111111" stroke-width="1.25" />
<line x1="200.6" y1="142" x2="245" y2="142" stroke="#111111" stroke-width="1.25" />
<line x1="200.6" y1="269.6" x2="245" y2="269.6" stroke="#111111" stroke-width="1.25" />
<rect x="350.2" y="119.2" width="42.5" height="172.9" fill="none" stroke="#111111" stroke-width="1.25"/>
<line x1="350.2" y1="141.2" x2="392.7" y2="141.2" stroke="#111111" stroke-width="1.25" />
<line x1="350.2" y1="270.1" x2="392.7" y2="270.1" stroke="#111111" stroke-width="1.25" />
<line x1="355.9" y1="141.2" x2="355.9" y2="270.1" stroke="#111111" stroke-width="1.25" />
<line x1="526.6" y1="138.00459970364176" x2="526.6" y2="273.3954002963582" stroke="#111111" stroke-width="1.25" />
<line x1="526.6" y1="170.4" x2="578" y2="170.4" stroke="#111111" stroke-width="1.25" />
<line x1="526.6" y1="241.0" x2="578" y2="241.0" stroke="#111111" stroke-width="1.25" />
<rect x="580.7" y="165.07" width="4.9" height="81.27" fill="url(#h45)"/>
<line x1="578" y1="160.77240100075687" x2="578" y2="250.6275989992431" stroke="#111111" stroke-width="1.25" />
<line x1="580.7" y1="162.26735955208494" x2="580.7" y2="249.13264044791504" stroke="#111111" stroke-width="1.25" />
<line x1="585.6" y1="165.0651162355319" x2="585.6" y2="246.3348837644681" stroke="#111111" stroke-width="1.25" />
<path d="M585.60,165.07 586.67,165.69 587.92,166.43 589.17,167.17 590.42,167.93 591.67,168.69 592.92,169.45 594.16,170.23 595.41,171.01 596.66,171.80 597.91,172.60 599.16,173.41 600.41,174.22 601.66,175.05 602.91,175.88 604.16,176.72 605.41,177.56 606.66,178.42 607.91,179.28 609.16,180.16 610.41,181.04 611.66,181.93 612.91,182.83 614.17,183.73 615.42,184.65 616.67,185.57 617.92,186.51 619.17,187.45 620.42,188.40 621.67,189.36 622.93,190.33 624.18,191.31 625.43,192.30 626.68,193.29 627.93,194.30 629.19,195.32 630.44,196.34 631.69,197.38 632.95,198.42 634.20,199.48 635.45,200.54 636.71,201.62 637.96,202.70 639.21,203.80 640.47,204.90 641.37,205.70 641.37,205.70 640.47,206.50 639.21,207.60 637.96,208.70 636.71,209.78 635.45,210.86 634.20,211.92 632.95,212.98 631.69,214.02 630.44,215.06 629.19,216.08 627.93,217.10 626.68,218.11 625.43,219.10 624.18,220.09 622.93,221.07 621.67,222.04 620.42,223.00 619.17,223.95 617.92,224.89 616.67,225.83 615.42,226.75 614.17,227.67 612.91,228.57 611.66,229.47 610.41,230.36 609.16,231.24 607.91,232.12 606.66,232.98 605.41,233.84 604.16,234.68 602.91,235.52 601.66,236.35 600.41,237.18 599.16,237.99 597.91,238.80 596.66,239.60 595.41,240.39 594.16,241.17 592.92,241.95 591.67,242.71 590.42,243.47 589.17,244.23 587.92,244.97 586.67,245.71 585.60,246.33Z M585.60,240.00 626.30,213.60 626.30,197.70 585.60,171.40Z" fill="url(#h45)" fill-rule="evenodd"/>
<path d="M585.60,165.07 586.67,165.69 587.92,166.43 589.17,167.17 590.42,167.93 591.67,168.69 592.92,169.45 594.16,170.23 595.41,171.01 596.66,171.80 597.91,172.60 599.16,173.41 600.41,174.22 601.66,175.05 602.91,175.88 604.16,176.72 605.41,177.56 606.66,178.42 607.91,179.28 609.16,180.16 610.41,181.04 611.66,181.93 612.91,182.83 614.17,183.73 615.42,184.65 616.67,185.57 617.92,186.51 619.17,187.45 620.42,188.40 621.67,189.36 622.93,190.33 624.18,191.31 625.43,192.30 626.68,193.29 627.93,194.30 629.19,195.32 630.44,196.34 631.69,197.38 632.95,198.42 634.20,199.48 635.45,200.54 636.71,201.62 637.96,202.70 639.21,203.80 640.47,204.90 641.37,205.70 641.37,205.70 640.47,206.50 639.21,207.60 637.96,208.70 636.71,209.78 635.45,210.86 634.20,211.92 632.95,212.98 631.69,214.02 630.44,215.06 629.19,216.08 627.93,217.10 626.68,218.11 625.43,219.10 624.18,220.09 622.93,221.07 621.67,222.04 620.42,223.00 619.17,223.95 617.92,224.89 616.67,225.83 615.42,226.75 614.17,227.67 612.91,228.57 611.66,229.47 610.41,230.36 609.16,231.24 607.91,232.12 606.66,232.98 605.41,233.84 604.16,234.68 602.91,235.52 601.66,236.35 600.41,237.18 599.16,237.99 597.91,238.80 596.66,239.60 595.41,240.39 594.16,241.17 592.92,241.95 591.67,242.71 590.42,243.47 589.17,244.23 587.92,244.97 586.67,245.71 585.60,246.33Z" fill="url(#h135)"/>
<polygon points="585.60,171.40 626.30,197.70 626.30,213.60 585.60,240.00" fill="#fff" stroke="#111111" stroke-width="1.25"/>
<line x1="641" y1="205.7" x2="658.5" y2="205.7" stroke="#111111" stroke-width="1.0" />
<polygon points="585.60,240.00 626.30,213.60 641.00,205.70 658.50,205.70 658.50,205.70 654.16,209.76 649.83,213.70 645.49,217.52 641.16,221.23 636.82,224.83 632.48,228.31 628.15,231.69 623.81,234.97 619.47,238.14 615.14,241.22 610.80,244.20 606.47,247.08 602.13,249.87 597.79,252.56 593.46,255.17 589.12,257.70 584.79,260.13" fill="#fff"/>
<polyline points="584.79,260.13 589.12,257.70 593.46,255.17 597.79,252.56 602.13,249.87 606.47,247.08 610.80,244.20 615.14,241.22 619.47,238.14 623.81,234.97 628.15,231.69 632.48,228.31 636.82,224.83 641.16,221.23 645.49,217.52 649.83,213.70 654.16,209.76 658.50,205.70" fill="none" stroke="#111111" stroke-width="1.25"/>
<polyline points="585.60,240.00 626.30,213.60" fill="none" stroke="#111111" stroke-width="1.25" stroke-linejoin="round"/>
<path d="M580.8,248.4 Q611.1,233.6 641.4,205.7" fill="none" stroke="#111111" stroke-width="1.15"/>
<line x1="591.5" y1="256.7" x2="653.3" y2="204.4" stroke="#111111" stroke-width="1.15" />
<line x1="588.7" y1="251.3" x2="637.1" y2="201.4" stroke="#111111" stroke-width="1.1" />
<line x1="212.5" y1="101.2" x2="276.0" y2="101.2" stroke="#111111" stroke-width="4.6" stroke-linecap="round"/>
<line x1="212.5" y1="101.2" x2="276.0" y2="101.2" stroke="#fff" stroke-width="2.6" stroke-linecap="round"/>
<line x1="212.5" y1="310.2" x2="276.0" y2="310.2" stroke="#111111" stroke-width="4.6" stroke-linecap="round"/>
<line x1="212.5" y1="310.2" x2="276.0" y2="310.2" stroke="#fff" stroke-width="2.6" stroke-linecap="round"/>
<line x1="524.5" y1="131.5" x2="587.5" y2="157.5" stroke="#111111" stroke-width="4.6" stroke-linecap="round"/>
<line x1="524.5" y1="131.5" x2="587.5" y2="157.5" stroke="#fff" stroke-width="2.6" stroke-linecap="round"/>
<line x1="524.5" y1="279.9" x2="587.5" y2="253.9" stroke="#111111" stroke-width="4.6" stroke-linecap="round"/>
<line x1="524.5" y1="279.9" x2="587.5" y2="253.9" stroke="#fff" stroke-width="2.6" stroke-linecap="round"/>
<rect x="465.5" y="113.3" width="9.5" height="6" fill="#fff" stroke="#111111" stroke-width="1" transform="rotate(12 470.2 116.3)"/>
<circle cx="470.2" cy="116.3" r="1.6" fill="none" stroke="#111111" stroke-width="0.9"/>
<rect x="465.5" y="292.0" width="9.5" height="6" fill="#fff" stroke="#111111" stroke-width="1" transform="rotate(-12 470.2 295.0)"/>
<circle cx="470.2" cy="295.0" r="1.6" fill="none" stroke="#111111" stroke-width="0.9"/>
<path d="M646.2,374.8 A4,4 0 1 1 652.1,380.2 L635,386 Z" fill="#fff" stroke="#111111" stroke-width="1"/>
<polygon points="144.00,390.10 155.20,370.70 655.80,361.80 654.90,363.61 653.87,365.46 652.70,367.35 651.40,369.28 649.96,371.24 648.38,373.24 646.67,375.26 644.82,377.32 642.84,379.39 640.72,381.48 638.46,383.59 636.06,385.72 633.53,387.86 630.86,390.00 628.06,392.15 625.11,394.30 622.03,396.45 618.81,398.60 615.46,400.74 611.96,402.88 608.32,405.00 604.55,407.10 600.64,409.19 596.59,411.26 592.40,413.30 588.07,415.31 583.60,417.30 578.99,419.25 574.24,421.16 569.35,423.04 564.32,424.88 559.15,426.67 553.83,428.41 548.38,430.10 542.79,431.74 537.05,433.32 531.18,434.84 525.16,436.30 519.00,437.70 156.70,437.60" fill="#dcdcdc" stroke="#111111" stroke-width="1.25" stroke-linejoin="round"/>
<line x1="155.2" y1="374.3" x2="650.6" y2="364.4" stroke="#111111" stroke-width="1.25" />
<polyline points="651.50,364.40 650.66,366.01 649.69,367.66 648.58,369.36 647.34,371.11 645.95,372.88 644.44,374.70 642.79,376.54 641.00,378.42 639.08,380.32 637.02,382.25 634.83,384.19 632.50,386.16 630.04,388.14 627.44,390.13 624.71,392.13 621.84,394.13 618.84,396.14 615.70,398.15 612.44,400.16 609.03,402.16 605.49,404.16 601.82,406.14 598.02,408.11 594.08,410.06 590.00,411.99 585.80,413.90 581.46,415.78 576.98,417.63 572.38,419.45 567.64,421.24 562.76,422.99 557.76,424.70 552.62,426.37 547.35,427.99 541.94,429.56 536.40,431.08 530.74,432.55 524.93,433.95 519.00,435.30" fill="none" stroke="#111111" stroke-width="1.25" stroke-linejoin="round"/>
<line x1="200.9" y1="435.3" x2="519" y2="435.3" stroke="#111111" stroke-width="1.25" />
<line x1="200.9" y1="373.6" x2="200.9" y2="435.3" stroke="#111111" stroke-width="1.25" />
<line x1="577.5" y1="365.2" x2="577.5" y2="422" stroke="#111111" stroke-width="1.25" />
<line x1="200.9" y1="422" x2="577.5" y2="422" stroke="#111111" stroke-width="1.25" />
<rect x="200.9" y="391.5" width="44.099999999999994" height="30.5" fill="#d9a013" stroke="#111111" stroke-width="1.25"/>
<rect x="350.3" y="391.5" width="41.599999999999966" height="30.5" fill="#d9a013" stroke="#111111" stroke-width="1.25"/>
<rect x="526.7" y="391.5" width="50.799999999999955" height="30.5" fill="#d9a013" stroke="#111111" stroke-width="1.25"/>
<polygon points="584.00,365.50 637.70,365.50 615.70,393.00 584.00,394.20" fill="#a39d74" stroke="#111111" stroke-width="1.25" stroke-linejoin="round"/>
<line x1="584" y1="394.2" x2="675.5" y2="394.2" stroke="#111111" stroke-width="1.0" />
<circle cx="649.3" cy="377.4" r="1.2" fill="none" stroke="#111111" stroke-width="0.8"/>
<path d="M213.0,369.8 C215.0,363.0 217.0,362.0 225.0,362.0 L264.8,361.4 C272.8,361.4 274.8,363.0 276.8,369.0" fill="none" stroke="#1f2c58" stroke-width="4.0" stroke-linecap="butt"/>
<path d="M213.0,369.8 C215.0,363.0 217.0,362.0 225.0,362.0 L264.8,361.4 C272.8,361.4 274.8,363.0 276.8,369.0" fill="none" stroke="#5a84e6" stroke-width="2.2" stroke-linecap="butt"/>
<path d="M524.0,364.6 C526.0,357.5 528.0,356.5 536.0,356.5 L576.0,355.9 C584.0,355.9 586.0,357.5 588.0,364.0" fill="none" stroke="#1f2c58" stroke-width="4.0" stroke-linecap="butt"/>
<path d="M524.0,364.6 C526.0,357.5 528.0,356.5 536.0,356.5 L576.0,355.9 C584.0,355.9 586.0,357.5 588.0,364.0" fill="none" stroke="#5a84e6" stroke-width="2.2" stroke-linecap="butt"/>
<line x1="655.8" y1="361.8" x2="678.5" y2="361.8" stroke="#111111" stroke-width="1.0" />
<line x1="675.2" y1="361.8" x2="675.2" y2="394.2" stroke="#111111" stroke-width="1.0" />
<polygon points="675.20,361.80 673.40,368.80 677.00,368.80" fill="#111111"/>
<polygon points="675.20,394.20 673.40,387.20 677.00,387.20" fill="#111111"/>
<line x1="245.0" y1="391.5" x2="265.7" y2="391.5" stroke="#111111" stroke-width="1.0" />
<line x1="263.7" y1="391.5" x2="263.7" y2="422" stroke="#111111" stroke-width="1.0" />
<polygon points="263.70,391.50 261.90,398.50 265.50,398.50" fill="#111111"/>
<polygon points="263.70,422.00 261.90,415.00 265.50,415.00" fill="#111111"/>
<line x1="391.9" y1="391.5" x2="417.5" y2="391.5" stroke="#111111" stroke-width="1.0" />
<line x1="415.5" y1="391.5" x2="415.5" y2="422" stroke="#111111" stroke-width="1.0" />
<polygon points="415.50,391.50 413.70,398.50 417.30,398.50" fill="#111111"/>
<polygon points="415.50,422.00 413.70,415.00 417.30,415.00" fill="#111111"/>
<line x1="509.2" y1="391.5" x2="526.7" y2="391.5" stroke="#111111" stroke-width="1.0" />
<line x1="511.2" y1="391.5" x2="511.2" y2="422" stroke="#111111" stroke-width="1.0" />
<polygon points="511.20,391.50 509.40,398.50 513.00,398.50" fill="#111111"/>
<polygon points="511.20,422.00 509.40,415.00 513.00,415.00" fill="#111111"/>
<line x1="329.9" y1="368.6" x2="329.9" y2="422" stroke="#111111" stroke-width="1.0" />
<polygon points="329.90,368.60 328.10,375.60 331.70,375.60" fill="#111111"/>
<polygon points="329.90,422.00 328.10,415.00 331.70,415.00" fill="#111111"/>
<line x1="245.0" y1="422" x2="245.0" y2="463" stroke="#111111" stroke-width="1.0" />
<line x1="526.7" y1="422" x2="526.7" y2="463" stroke="#111111" stroke-width="1.0" />
<line x1="245.0" y1="460.9" x2="526.7" y2="460.9" stroke="#111111" stroke-width="1.0" />
<polygon points="245.00,460.90 252.00,459.10 252.00,462.70" fill="#111111"/>
<polygon points="526.70,460.90 519.70,459.10 519.70,462.70" fill="#111111"/>
<line x1="85.2" y1="269.4" x2="85.2" y2="437.4" stroke="#111111" stroke-width="1.0" />
<line x1="85.2" y1="390.0" x2="144" y2="390.0" stroke="#111111" stroke-width="1.0" />
<line x1="85.2" y1="437.4" x2="157" y2="437.4" stroke="#111111" stroke-width="1.0" />
<polygon points="85.20,390.00 83.40,397.00 87.00,397.00" fill="#111111"/>
<polygon points="85.20,437.40 83.40,430.40 87.00,430.40" fill="#111111"/>
<polygon points="707.40,360.20 719.30,360.20 748.50,381.50 795.60,381.50 795.60,437.70 724.90,427.60" fill="#dcdcdc" stroke="#111111" stroke-width="1.05" stroke-linejoin="round"/>
<polygon points="795.60,353.90 878.70,360.20 867.50,415.20 795.60,437.70" fill="#dcdcdc" stroke="#111111" stroke-width="1.05" stroke-linejoin="round"/>
<polyline points="719.30,360.60 726.00,386.00 795.60,386.00" fill="none" stroke="#111111" stroke-width="1.05" stroke-linejoin="round"/>
<polyline points="721.00,362.50 747.60,383.10 795.60,383.10" fill="none" stroke="#111111" stroke-width="0.9" stroke-linejoin="round"/>
<path d="M795.6,379.3 Q835,392 867.5,415.2" fill="none" stroke="#111111" stroke-width="1.05"/>
<line x1="795.6" y1="353.9" x2="795.6" y2="437.7" stroke="#111111" stroke-width="1.05" />
<line x1="698.0" y1="424.4" x2="795.6" y2="437.7" stroke="#111111" stroke-width="1.05" />
<line x1="795.6" y1="437.7" x2="885.4" y2="417.5" stroke="#111111" stroke-width="1.05" />
<line x1="697" y1="437.7" x2="907.5" y2="437.7" stroke="#111111" stroke-width="1.2" />
<line x1="878.7" y1="360.2" x2="908.5" y2="360.2" stroke="#111111" stroke-width="1.0" />
<line x1="905.6" y1="360.2" x2="905.6" y2="437.7" stroke="#111111" stroke-width="1.0" />
<polygon points="905.60,360.20 903.80,367.20 907.40,367.20" fill="#111111"/>
<polygon points="905.60,437.70 903.80,430.70 907.40,430.70" fill="#111111"/>
<path d="M706.5,391.0 Q697,415 697.6,453.0" fill="none" stroke="#111111" stroke-width="1"/>
<polygon points="698.40,424.00 697.10,417.50 699.70,417.50" fill="#111111"/>
<polygon points="697.60,438.20 696.30,444.70 698.90,444.70" fill="#111111"/>
<path d="M885.4,418.4 Q890,440 885.4,468" fill="none" stroke="#111111" stroke-width="1"/>
<polygon points="886.20,418.80 884.90,425.30 887.50,425.30" fill="#111111"/>
<polygon points="887.80,437.00 886.50,430.50 889.10,430.50" fill="#111111"/>
<path d="M695.61,398.66 C694.77,400.23 693.56,400.32 692.42,399.26 C691.29,398.20 690.99,396.56 691.78,395.09 C692.56,393.62 693.83,393.43 694.96,394.49 C696.09,395.54 696.45,397.09 695.61,398.66 C694.66,400.44 695.08,402.35 696.56,403.73 C698.13,405.19 699.54,404.98 700.48,403.21 C701.43,401.43 701.10,399.60 699.53,398.14 C698.05,396.76 696.55,396.88 695.61,398.66 L695.61,398.66 M694.99,389.05 C694.56,389.86 694.76,390.95 695.45,391.60 C696.15,392.25 697.00,392.13 697.43,391.32 C697.86,390.51 697.66,389.41 696.96,388.76 C696.27,388.11 695.42,388.23 694.99,389.05 L694.99,389.05" fill="none" stroke="#111" stroke-width="1.15" stroke-linecap="round" stroke-linejoin="round"/>
<path d="M898.10,450.78 L900.73,453.73 L890.46,452.47 M901.06,456.01 L901.74,460.86 L897.33,457.50 C897.63,459.67 896.54,460.51 894.59,460.27 C892.53,460.02 891.34,458.71 891.11,457.12 C890.95,455.93 891.33,455.11 892.28,454.64 M902.22,464.33 C902.11,463.53 901.41,462.86 900.59,462.76 C899.77,462.66 899.24,463.18 899.35,463.97 C899.46,464.76 900.16,465.43 900.98,465.54 C901.80,465.64 902.34,465.12 902.22,464.33 L902.22,464.33" fill="none" stroke="#111" stroke-width="1.25" stroke-linecap="round" stroke-linejoin="round"/>
<clipPath id="lc"><circle cx="716.7" cy="223.8" r="13.0"/></clipPath>
<g clip-path="url(#lc)"><rect x="700" y="205" width="36" height="36" fill="url(#hleg)"/></g>
<circle cx="716.7" cy="223.8" r="13.4" fill="none" stroke="#111111" stroke-width="1.3"/>
<polygon points="142.50,475.70 146.84,475.70 151.17,475.70 155.51,475.70 159.84,475.70 164.18,475.70 168.52,475.70 172.85,475.70 177.19,475.70 181.53,475.70 185.86,475.70 190.20,475.70 194.53,475.71 198.87,475.71 203.21,475.71 207.54,475.72 211.88,475.72 216.21,475.73 220.55,475.73 224.89,475.74 229.22,475.75 233.56,475.76 237.89,475.77 242.23,475.79 246.57,475.80 250.90,475.82 255.24,475.84 259.58,475.87 263.91,475.89 268.25,475.92 272.58,475.96 276.92,476.00 281.26,476.04 285.59,476.09 289.93,476.14 294.26,476.20 298.60,476.26 302.94,476.33 307.27,476.41 311.61,476.49 315.95,476.58 320.28,476.68 324.62,476.79 328.95,476.91 333.29,477.03 337.63,477.17 341.96,477.32 346.30,477.47 350.63,477.64 354.97,477.83 359.31,478.02 363.64,478.23 367.98,478.46 372.32,478.70 376.65,478.95 380.99,479.22 385.32,479.51 389.66,479.82 394.00,480.15 398.33,480.50 402.67,480.86 407.00,481.25 411.34,481.67 415.68,482.10 420.01,482.56 424.35,483.05 428.68,483.56 433.02,484.10 437.36,484.67 441.69,485.27 446.03,485.90 450.37,486.56 454.70,487.25 459.04,487.98 463.37,488.74 467.71,489.54 472.05,490.38 476.38,491.26 480.72,492.18 485.05,493.14 489.39,494.14 493.73,495.19 498.06,496.29 502.40,497.43 506.74,498.62 511.07,499.86 515.41,501.15 519.74,502.50 524.08,503.90 528.42,505.36 532.75,506.87 537.09,508.45 541.42,510.09 545.76,511.79 550.10,513.56 554.43,515.39 558.77,517.30 563.11,519.27 567.44,521.32 571.78,523.44 576.11,525.63 580.45,527.91 584.79,530.27 589.12,532.70 593.46,535.23 597.79,537.84 602.13,540.53 606.47,543.32 610.80,546.20 615.14,549.18 619.47,552.26 623.81,555.43 628.15,558.71 632.48,562.09 636.82,565.57 641.16,569.17 645.49,572.88 649.83,576.70 654.16,580.64 658.50,584.70 658.50,584.70 654.16,588.76 649.83,592.70 645.49,596.52 641.16,600.23 636.82,603.83 632.48,607.31 628.15,610.69 623.81,613.97 619.47,617.14 615.14,620.22 610.80,623.20 606.47,626.08 602.13,628.87 597.79,631.56 593.46,634.17 589.12,636.70 584.79,639.13 580.45,641.49 576.11,643.77 571.78,645.96 567.44,648.08 563.11,650.13 558.77,652.10 554.43,654.01 550.10,655.84 545.76,657.61 541.42,659.31 537.09,660.95 532.75,662.53 528.42,664.04 524.08,665.50 519.74,666.90 515.41,668.25 511.07,669.54 506.74,670.78 502.40,671.97 498.06,673.11 493.73,674.21 489.39,675.26 485.05,676.26 480.72,677.22 476.38,678.14 472.05,679.02 467.71,679.86 463.37,680.66 459.04,681.42 454.70,682.15 450.37,682.84 446.03,683.50 441.69,684.13 437.36,684.73 433.02,685.30 428.68,685.84 424.35,686.35 420.01,686.84 415.68,687.30 411.34,687.73 407.00,688.15 402.67,688.54 398.33,688.90 394.00,689.25 389.66,689.58 385.32,689.89 380.99,690.18 376.65,690.45 372.32,690.70 367.98,690.94 363.64,691.17 359.31,691.38 354.97,691.57 350.63,691.76 346.30,691.93 341.96,692.08 337.63,692.23 333.29,692.37 328.95,692.49 324.62,692.61 320.28,692.72 315.95,692.82 311.61,692.91 307.27,692.99 302.94,693.07 298.60,693.14 294.26,693.20 289.93,693.26 285.59,693.31 281.26,693.36 276.92,693.40 272.58,693.44 268.25,693.48 263.91,693.51 259.58,693.53 255.24,693.56 250.90,693.58 246.57,693.60 242.23,693.61 237.89,693.63 233.56,693.64 229.22,693.65 224.89,693.66 220.55,693.67 216.21,693.67 211.88,693.68 207.54,693.68 203.21,693.69 198.87,693.69 194.53,693.69 190.20,693.70 185.86,693.70 181.53,693.70 177.19,693.70 172.85,693.70 168.52,693.70 164.18,693.70 159.84,693.70 155.51,693.70 151.17,693.70 146.84,693.70 142.50,693.70" fill="#dcdcdc" stroke="none"/>
<clipPath id="inner3"><polygon points="142.50,486.90 143.79,486.90 145.09,486.90 146.38,486.90 147.67,486.90 148.97,486.90 150.26,486.90 151.55,486.90 152.85,486.90 154.14,486.90 155.43,486.90 156.73,486.90 158.02,486.90 159.31,486.90 160.60,486.90 161.90,486.90 163.19,486.90 164.48,486.90 165.78,486.90 167.07,486.90 168.36,486.90 169.66,486.90 170.95,486.90 172.24,486.90 173.54,486.90 174.83,486.90 176.12,486.90 177.42,486.90 178.71,486.90 180.00,486.90 181.29,486.90 182.59,486.90 183.88,486.90 185.17,486.90 186.47,486.90 187.76,486.90 189.05,486.90 190.35,486.90 191.64,486.91 192.93,486.91 194.22,486.91 195.52,486.91 196.81,486.91 198.10,486.91 199.40,486.91 200.69,486.91 201.98,486.91 203.27,486.91 204.57,486.91 205.86,486.91 207.15,486.92 208.44,486.92 209.74,486.92 211.03,486.92 212.32,486.92 213.61,486.92 214.91,486.92 216.20,486.93 217.49,486.93 218.78,486.93 220.08,486.93 221.37,486.93 222.66,486.94 223.95,486.94 225.25,486.94 226.54,486.94 227.83,486.95 229.12,486.95 230.41,486.95 231.71,486.95 233.00,486.96 234.29,486.96 235.58,486.96 236.87,486.97 238.16,486.97 239.46,486.98 240.75,486.98 242.04,486.99 243.33,486.99 244.62,486.99 245.91,487.00 247.21,487.00 248.50,487.01 249.79,487.02 251.08,487.02 252.37,487.03 253.66,487.03 254.95,487.04 256.24,487.05 257.53,487.05 258.83,487.06 260.12,487.07 261.41,487.08 262.70,487.09 263.99,487.09 265.28,487.10 266.57,487.11 267.86,487.12 269.15,487.13 270.44,487.14 271.73,487.15 273.02,487.16 274.31,487.17 275.60,487.19 276.89,487.20 278.18,487.21 279.47,487.22 280.76,487.24 282.05,487.25 283.34,487.26 284.63,487.28 285.92,487.29 287.21,487.31 288.50,487.32 289.79,487.34 291.08,487.36 292.36,487.37 293.65,487.39 294.94,487.41 296.23,487.43 297.52,487.45 298.81,487.47 300.10,487.49 301.38,487.51 302.67,487.53 303.96,487.55 305.25,487.57 306.54,487.60 307.82,487.62 309.11,487.64 310.40,487.67 311.69,487.70 312.97,487.72 314.26,487.75 315.55,487.78 316.84,487.81 318.12,487.83 319.41,487.86 320.70,487.90 321.98,487.93 323.27,487.96 324.56,487.99 325.84,488.03 327.13,488.06 328.41,488.10 329.70,488.13 330.99,488.17 332.27,488.21 333.56,488.25 334.84,488.29 336.13,488.33 337.41,488.37 338.70,488.41 339.98,488.45 341.27,488.50 342.55,488.54 343.84,488.59 345.12,488.64 346.40,488.69 347.69,488.74 348.97,488.79 350.25,488.84 351.54,488.89 352.82,488.94 354.11,489.00 355.39,489.06 356.67,489.11 357.95,489.17 359.24,489.23 360.52,489.29 361.80,489.36 363.08,489.42 364.37,489.48 365.65,489.55 366.93,489.62 368.21,489.69 369.49,489.76 370.77,489.83 372.05,489.90 373.33,489.97 374.62,490.05 375.90,490.13 377.18,490.20 378.46,490.28 379.74,490.37 381.02,490.45 382.30,490.53 383.58,490.62 384.85,490.71 386.13,490.80 387.41,490.89 388.69,490.98 389.97,491.07 391.25,491.17 392.53,491.27 393.80,491.37 395.08,491.47 396.36,491.57 397.64,491.68 398.91,491.78 400.19,491.89 401.47,492.00 402.74,492.11 404.02,492.23 405.30,492.34 406.57,492.46 407.85,492.58 409.13,492.70 410.40,492.83 411.68,492.95 412.95,493.08 414.23,493.21 415.50,493.34 416.77,493.48 418.05,493.61 419.32,493.75 420.60,493.89 421.87,494.04 423.14,494.18 424.42,494.33 425.69,494.48 426.96,494.63 428.23,494.79 429.51,494.95 430.78,495.11 432.05,495.27 433.32,495.43 434.59,495.60 435.86,495.77 437.13,495.94 438.41,496.12 439.68,496.29 440.95,496.47 442.22,496.66 443.49,496.84 444.76,497.03 446.02,497.22 447.29,497.42 448.56,497.61 449.83,497.81 451.10,498.01 452.37,498.22 453.63,498.43 454.90,498.64 456.17,498.85 457.44,499.07 458.70,499.29 459.97,499.51 461.24,499.74 462.50,499.97 463.77,500.20 465.03,500.44 466.30,500.68 467.57,500.92 468.83,501.17 470.10,501.41 471.36,501.67 472.62,501.92 473.89,502.18 475.15,502.45 476.42,502.71 477.68,502.98 478.94,503.25 480.21,503.53 481.47,503.81 482.73,504.10 483.99,504.38 485.25,504.68 486.52,504.97 487.78,505.27 489.04,505.57 490.30,505.88 491.56,506.19 492.82,506.51 494.08,506.83 495.34,507.15 496.60,507.48 497.86,507.81 499.12,508.14 500.38,508.48 501.64,508.83 502.90,509.17 504.16,509.53 505.41,509.88 506.67,510.24 507.93,510.61 509.19,510.98 510.45,511.35 511.70,511.73 512.96,512.11 514.22,512.50 515.47,512.89 516.73,513.29 517.99,513.69 519.24,514.10 520.50,514.51 521.75,514.93 523.01,515.35 524.27,515.78 525.52,516.21 526.78,516.64 528.03,517.08 529.28,517.53 530.54,517.98 531.79,518.44 533.05,518.90 534.30,519.37 535.56,519.84 536.81,520.32 538.06,520.80 539.32,521.29 540.57,521.78 541.82,522.28 543.08,522.78 544.33,523.30 545.58,523.81 546.83,524.33 548.09,524.86 549.34,525.39 550.59,525.93 551.84,526.48 553.09,527.03 554.35,527.59 555.60,528.15 556.85,528.72 558.10,529.30 559.35,529.88 560.60,530.47 561.86,531.06 563.11,531.66 564.36,532.27 565.61,532.88 566.86,533.50 568.11,534.13 569.36,534.76 570.61,535.40 571.86,536.05 573.11,536.70 574.36,537.36 575.62,538.03 576.87,538.70 578.12,539.38 579.37,540.07 580.62,540.76 581.87,541.46 583.12,542.17 584.37,542.89 585.62,543.61 586.87,544.35 588.12,545.08 589.37,545.83 590.62,546.58 591.87,547.34 593.13,548.11 594.38,548.89 595.63,549.67 596.88,550.47 598.13,551.27 599.38,552.07 600.63,552.89 601.88,553.71 603.13,554.55 604.39,555.39 605.64,556.23 606.89,557.09 608.14,557.96 609.39,558.83 610.64,559.71 611.90,560.60 613.15,561.50 614.40,562.41 615.65,563.33 616.91,564.25 618.16,565.19 619.41,566.13 620.66,567.08 621.92,568.04 623.17,569.01 624.42,569.99 625.68,570.98 626.93,571.98 628.19,572.99 629.44,574.01 630.69,575.03 631.95,576.07 633.20,577.12 634.46,578.17 635.71,579.24 636.97,580.31 638.22,581.40 639.48,582.50 640.73,583.60 641.97,584.70 641.97,584.70 640.73,585.80 639.48,586.90 638.22,588.00 636.97,589.09 635.71,590.16 634.46,591.23 633.20,592.28 631.95,593.33 630.69,594.37 629.44,595.39 628.19,596.41 626.93,597.42 625.68,598.42 624.42,599.41 623.17,600.39 621.92,601.36 620.66,602.32 619.41,603.27 618.16,604.21 616.91,605.15 615.65,606.07 614.40,606.99 613.15,607.90 611.90,608.80 610.64,609.69 609.39,610.57 608.14,611.44 606.89,612.31 605.64,613.17 604.39,614.01 603.13,614.85 601.88,615.69 600.63,616.51 599.38,617.33 598.13,618.13 596.88,618.93 595.63,619.73 594.38,620.51 593.13,621.29 591.87,622.06 590.62,622.82 589.37,623.57 588.12,624.32 586.87,625.05 585.62,625.79 584.37,626.51 583.12,627.23 581.87,627.94 580.62,628.64 579.37,629.33 578.12,630.02 576.87,630.70 575.62,631.37 574.36,632.04 573.11,632.70 571.86,633.35 570.61,634.00 569.36,634.64 568.11,635.27 566.86,635.90 565.61,636.52 564.36,637.13 563.11,637.74 561.86,638.34 560.60,638.93 559.35,639.52 558.10,640.10 556.85,640.68 555.60,641.25 554.35,641.81 553.09,642.37 551.84,642.92 550.59,643.47 549.34,644.01 548.09,644.54 546.83,645.07 545.58,645.59 544.33,646.10 543.08,646.62 541.82,647.12 540.57,647.62 539.32,648.11 538.06,648.60 536.81,649.08 535.56,649.56 534.30,650.03 533.05,650.50 531.79,650.96 530.54,651.42 529.28,651.87 528.03,652.32 526.78,652.76 525.52,653.19 524.27,653.62 523.01,654.05 521.75,654.47 520.50,654.89 519.24,655.30 517.99,655.71 516.73,656.11 515.47,656.51 514.22,656.90 512.96,657.29 511.70,657.67 510.45,658.05 509.19,658.42 507.93,658.79 506.67,659.16 505.41,659.52 504.16,659.87 502.90,660.23 501.64,660.57 500.38,660.92 499.12,661.26 497.86,661.59 496.60,661.92 495.34,662.25 494.08,662.57 492.82,662.89 491.56,663.21 490.30,663.52 489.04,663.83 487.78,664.13 486.52,664.43 485.25,664.72 483.99,665.02 482.73,665.30 481.47,665.59 480.21,665.87 478.94,666.15 477.68,666.42 476.42,666.69 475.15,666.95 473.89,667.22 472.62,667.48 471.36,667.73 470.10,667.99 468.83,668.23 467.57,668.48 466.30,668.72 465.03,668.96 463.77,669.20 462.50,669.43 461.24,669.66 459.97,669.89 458.70,670.11 457.44,670.33 456.17,670.55 454.90,670.76 453.63,670.97 452.37,671.18 451.10,671.39 449.83,671.59 448.56,671.79 447.29,671.98 446.02,672.18 444.76,672.37 443.49,672.56 442.22,672.74 440.95,672.93 439.68,673.11 438.41,673.28 437.13,673.46 435.86,673.63 434.59,673.80 433.32,673.97 432.05,674.13 430.78,674.29 429.51,674.45 428.23,674.61 426.96,674.77 425.69,674.92 424.42,675.07 423.14,675.22 421.87,675.36 420.60,675.51 419.32,675.65 418.05,675.79 416.77,675.92 415.50,676.06 414.23,676.19 412.95,676.32 411.68,676.45 410.40,676.57 409.13,676.70 407.85,676.82 406.57,676.94 405.30,677.06 404.02,677.17 402.74,677.29 401.47,677.40 400.19,677.51 398.91,677.62 397.64,677.72 396.36,677.83 395.08,677.93 393.80,678.03 392.53,678.13 391.25,678.23 389.97,678.33 388.69,678.42 387.41,678.51 386.13,678.60 384.85,678.69 383.58,678.78 382.30,678.87 381.02,678.95 379.74,679.03 378.46,679.12 377.18,679.20 375.90,679.27 374.62,679.35 373.33,679.43 372.05,679.50 370.77,679.57 369.49,679.64 368.21,679.71 366.93,679.78 365.65,679.85 364.37,679.92 363.08,679.98 361.80,680.04 360.52,680.11 359.24,680.17 357.95,680.23 356.67,680.29 355.39,680.34 354.11,680.40 352.82,680.46 351.54,680.51 350.25,680.56 348.97,680.61 347.69,680.66 346.40,680.71 345.12,680.76 343.84,680.81 342.55,680.86 341.27,680.90 339.98,680.95 338.70,680.99 337.41,681.03 336.13,681.07 334.84,681.11 333.56,681.15 332.27,681.19 330.99,681.23 329.70,681.27 328.41,681.30 327.13,681.34 325.84,681.37 324.56,681.41 323.27,681.44 321.98,681.47 320.70,681.50 319.41,681.54 318.12,681.57 316.84,681.59 315.55,681.62 314.26,681.65 312.97,681.68 311.69,681.70 310.40,681.73 309.11,681.76 307.82,681.78 306.54,681.80 305.25,681.83 303.96,681.85 302.67,681.87 301.38,681.89 300.10,681.91 298.81,681.93 297.52,681.95 296.23,681.97 294.94,681.99 293.65,682.01 292.36,682.03 291.08,682.04 289.79,682.06 288.50,682.08 287.21,682.09 285.92,682.11 284.63,682.12 283.34,682.14 282.05,682.15 280.76,682.16 279.47,682.18 278.18,682.19 276.89,682.20 275.60,682.21 274.31,682.23 273.02,682.24 271.73,682.25 270.44,682.26 269.15,682.27 267.86,682.28 266.57,682.29 265.28,682.30 263.99,682.31 262.70,682.31 261.41,682.32 260.12,682.33 258.83,682.34 257.53,682.35 256.24,682.35 254.95,682.36 253.66,682.37 252.37,682.37 251.08,682.38 249.79,682.38 248.50,682.39 247.21,682.40 245.91,682.40 244.62,682.41 243.33,682.41 242.04,682.41 240.75,682.42 239.46,682.42 238.16,682.43 236.87,682.43 235.58,682.44 234.29,682.44 233.00,682.44 231.71,682.45 230.41,682.45 229.12,682.45 227.83,682.45 226.54,682.46 225.25,682.46 223.95,682.46 222.66,682.46 221.37,682.47 220.08,682.47 218.78,682.47 217.49,682.47 216.20,682.47 214.91,682.48 213.61,682.48 212.32,682.48 211.03,682.48 209.74,682.48 208.44,682.48 207.15,682.48 205.86,682.49 204.57,682.49 203.27,682.49 201.98,682.49 200.69,682.49 199.40,682.49 198.10,682.49 196.81,682.49 195.52,682.49 194.22,682.49 192.93,682.49 191.64,682.49 190.35,682.50 189.05,682.50 187.76,682.50 186.47,682.50 185.17,682.50 183.88,682.50 182.59,682.50 181.29,682.50 180.00,682.50 178.71,682.50 177.42,682.50 176.12,682.50 174.83,682.50 173.54,682.50 172.24,682.50 170.95,682.50 169.66,682.50 168.36,682.50 167.07,682.50 165.78,682.50 164.48,682.50 163.19,682.50 161.90,682.50 160.60,682.50 159.31,682.50 158.02,682.50 156.73,682.50 155.43,682.50 154.14,682.50 152.85,682.50 151.55,682.50 150.26,682.50 148.97,682.50 147.67,682.50 146.38,682.50 145.09,682.50 143.79,682.50 142.50,682.50"/></clipPath>
<g clip-path="url(#inner3)">
<rect x="245" y="470" width="281.6" height="230" fill="#992800" stroke="#111111" stroke-width="0"/>
<rect x="200.6" y="470" width="44.4" height="230" fill="#f5a814" stroke="#111111" stroke-width="0"/>
<rect x="526.6" y="470" width="50.799999999999955" height="230" fill="#f5a814" stroke="#111111" stroke-width="0"/>
<rect x="577.4" y="470" width="3.2" height="230" fill="#e09a10" stroke="#111111" stroke-width="0"/>
</g>
<rect x="142.5" y="486.90" width="58.1" height="52.70" fill="url(#xh)" stroke="#111111" stroke-width="1.25"/>
<rect x="142.5" y="629.8" width="58.1" height="52.70" fill="url(#xh)" stroke="#111111" stroke-width="1.25"/>
<line x1="146.7" y1="539.6" x2="146.7" y2="629.8" stroke="#111111" stroke-width="1.0" />
<line x1="153.3" y1="539.6" x2="153.3" y2="629.8" stroke="#111111" stroke-width="1.0" />
<rect x="349.9" y="498.7" width="42.8" height="172.3" fill="#f5a814" stroke="#111111" stroke-width="1.25"/>
<line x1="349.9" y1="517.5" x2="392.7" y2="517.5" stroke="#111111" stroke-width="1.25" />
<line x1="349.9" y1="652.3" x2="392.7" y2="652.3" stroke="#111111" stroke-width="1.25" />
<line x1="356.3" y1="517.5" x2="356.3" y2="652.3" stroke="#111111" stroke-width="1.25" />
<line x1="200.6" y1="520.7" x2="245" y2="520.7" stroke="#111111" stroke-width="1.25" />
<line x1="200.6" y1="648.3" x2="245" y2="648.3" stroke="#111111" stroke-width="1.25" />
<line x1="526.6" y1="549.4" x2="577.4" y2="549.4" stroke="#111111" stroke-width="1.25" />
<line x1="526.6" y1="619.6" x2="577.4" y2="619.6" stroke="#111111" stroke-width="1.25" />
<polygon points="580.60,540.75 580.62,540.76 581.87,541.46 583.12,542.17 584.37,542.89 585.62,543.61 586.87,544.35 588.12,545.08 589.37,545.83 590.62,546.58 591.87,547.34 593.13,548.11 594.38,548.89 595.63,549.67 596.88,550.47 598.13,551.27 599.38,552.07 600.63,552.89 601.88,553.71 603.13,554.55 604.39,555.39 605.64,556.23 606.89,557.09 608.14,557.96 609.39,558.83 610.64,559.71 611.90,560.60 613.15,561.50 614.40,562.41 615.65,563.33 616.91,564.25 618.16,565.19 619.41,566.13 620.66,567.08 621.92,568.04 623.17,569.01 624.42,569.99 625.68,570.98 626.93,571.98 628.19,572.99 629.44,574.01 630.69,575.03 631.95,576.07 633.20,577.12 634.46,578.17 635.71,579.24 636.97,580.31 638.22,581.40 639.48,582.50 640.73,583.60 641.97,584.70 641.97,584.70 640.73,585.80 639.48,586.90 638.22,588.00 636.97,589.09 635.71,590.16 634.46,591.23 633.20,592.28 631.95,593.33 630.69,594.37 629.44,595.39 628.19,596.41 626.93,597.42 625.68,598.42 624.42,599.41 623.17,600.39 621.92,601.36 620.66,602.32 619.41,603.27 618.16,604.21 616.91,605.15 615.65,606.07 614.40,606.99 613.15,607.90 611.90,608.80 610.64,609.69 609.39,610.57 608.14,611.44 606.89,612.31 605.64,613.17 604.39,614.01 603.13,614.85 601.88,615.69 600.63,616.51 599.38,617.33 598.13,618.13 596.88,618.93 595.63,619.73 594.38,620.51 593.13,621.29 591.87,622.06 590.62,622.82 589.37,623.57 588.12,624.32 586.87,625.05 585.62,625.79 584.37,626.51 583.12,627.23 581.87,627.94 580.62,628.64 580.60,628.65" fill="url(#xh)" stroke="#111111" stroke-width="1.25"/>
<polygon points="585.7,550 626.3,575.6 626.3,595.5 585.7,617" fill="url(#xho)" stroke="#111111" stroke-width="1.1"/>
<rect x="141" y="539.6" width="5.7" height="90.2" fill="#fff"/>
<polyline points="142.50,539.60 142.50,475.70 146.84,475.70 151.17,475.70 155.51,475.70 159.84,475.70 164.18,475.70 168.52,475.70 172.85,475.70 177.19,475.70 181.53,475.70 185.86,475.70 190.20,475.70 194.53,475.71 198.87,475.71 203.21,475.71 207.54,475.72 211.88,475.72 216.21,475.73 220.55,475.73 224.89,475.74 229.22,475.75 233.56,475.76 237.89,475.77 242.23,475.79 246.57,475.80 250.90,475.82 255.24,475.84 259.58,475.87 263.91,475.89 268.25,475.92 272.58,475.96 276.92,476.00 281.26,476.04 285.59,476.09 289.93,476.14 294.26,476.20 298.60,476.26 302.94,476.33 307.27,476.41 311.61,476.49 315.95,476.58 320.28,476.68 324.62,476.79 328.95,476.91 333.29,477.03 337.63,477.17 341.96,477.32 346.30,477.47 350.63,477.64 354.97,477.83 359.31,478.02 363.64,478.23 367.98,478.46 372.32,478.70 376.65,478.95 380.99,479.22 385.32,479.51 389.66,479.82 394.00,480.15 398.33,480.50 402.67,480.86 407.00,481.25 411.34,481.67 415.68,482.10 420.01,482.56 424.35,483.05 428.68,483.56 433.02,484.10 437.36,484.67 441.69,485.27 446.03,485.90 450.37,486.56 454.70,487.25 459.04,487.98 463.37,488.74 467.71,489.54 472.05,490.38 476.38,491.26 480.72,492.18 485.05,493.14 489.39,494.14 493.73,495.19 498.06,496.29 502.40,497.43 506.74,498.62 511.07,499.86 515.41,501.15 519.74,502.50 524.08,503.90 528.42,505.36 532.75,506.87 537.09,508.45 541.42,510.09 545.76,511.79 550.10,513.56 554.43,515.39 558.77,517.30 563.11,519.27 567.44,521.32 571.78,523.44 576.11,525.63 580.45,527.91 584.79,530.27 589.12,532.70 593.46,535.23 597.79,537.84 602.13,540.53 606.47,543.32 610.80,546.20 615.14,549.18 619.47,552.26 623.81,555.43 628.15,558.71 632.48,562.09 636.82,565.57 641.16,569.17 645.49,572.88 649.83,576.70 654.16,580.64 658.50,584.70" fill="none" stroke="#111111" stroke-width="1.25"/>
<polyline points="658.50,584.70 654.16,588.76 649.83,592.70 645.49,596.52 641.16,600.23 636.82,603.83 632.48,607.31 628.15,610.69 623.81,613.97 619.47,617.14 615.14,620.22 610.80,623.20 606.47,626.08 602.13,628.87 597.79,631.56 593.46,634.17 589.12,636.70 584.79,639.13 580.45,641.49 576.11,643.77 571.78,645.96 567.44,648.08 563.11,650.13 558.77,652.10 554.43,654.01 550.10,655.84 545.76,657.61 541.42,659.31 537.09,660.95 532.75,662.53 528.42,664.04 524.08,665.50 519.74,666.90 515.41,668.25 511.07,669.54 506.74,670.78 502.40,671.97 498.06,673.11 493.73,674.21 489.39,675.26 485.05,676.26 480.72,677.22 476.38,678.14 472.05,679.02 467.71,679.86 463.37,680.66 459.04,681.42 454.70,682.15 450.37,682.84 446.03,683.50 441.69,684.13 437.36,684.73 433.02,685.30 428.68,685.84 424.35,686.35 420.01,686.84 415.68,687.30 411.34,687.73 407.00,688.15 402.67,688.54 398.33,688.90 394.00,689.25 389.66,689.58 385.32,689.89 380.99,690.18 376.65,690.45 372.32,690.70 367.98,690.94 363.64,691.17 359.31,691.38 354.97,691.57 350.63,691.76 346.30,691.93 341.96,692.08 337.63,692.23 333.29,692.37 328.95,692.49 324.62,692.61 320.28,692.72 315.95,692.82 311.61,692.91 307.27,692.99 302.94,693.07 298.60,693.14 294.26,693.20 289.93,693.26 285.59,693.31 281.26,693.36 276.92,693.40 272.58,693.44 268.25,693.48 263.91,693.51 259.58,693.53 255.24,693.56 250.90,693.58 246.57,693.60 242.23,693.61 237.89,693.63 233.56,693.64 229.22,693.65 224.89,693.66 220.55,693.67 216.21,693.67 211.88,693.68 207.54,693.68 203.21,693.69 198.87,693.69 194.53,693.69 190.20,693.70 185.86,693.70 181.53,693.70 177.19,693.70 172.85,693.70 168.52,693.70 164.18,693.70 159.84,693.70 155.51,693.70 151.17,693.70 146.84,693.70 142.50,693.70 142.50,629.80" fill="none" stroke="#111111" stroke-width="1.25"/>
<polyline points="142.50,486.90 143.79,486.90 145.09,486.90 146.38,486.90 147.67,486.90 148.97,486.90 150.26,486.90 151.55,486.90 152.85,486.90 154.14,486.90 155.43,486.90 156.73,486.90 158.02,486.90 159.31,486.90 160.60,486.90 161.90,486.90 163.19,486.90 164.48,486.90 165.78,486.90 167.07,486.90 168.36,486.90 169.66,486.90 170.95,486.90 172.24,486.90 173.54,486.90 174.83,486.90 176.12,486.90 177.42,486.90 178.71,486.90 180.00,486.90 181.29,486.90 182.59,486.90 183.88,486.90 185.17,486.90 186.47,486.90 187.76,486.90 189.05,486.90 190.35,486.90 191.64,486.91 192.93,486.91 194.22,486.91 195.52,486.91 196.81,486.91 198.10,486.91 199.40,486.91 200.69,486.91 201.98,486.91 203.27,486.91 204.57,486.91 205.86,486.91 207.15,486.92 208.44,486.92 209.74,486.92 211.03,486.92 212.32,486.92 213.61,486.92 214.91,486.92 216.20,486.93 217.49,486.93 218.78,486.93 220.08,486.93 221.37,486.93 222.66,486.94 223.95,486.94 225.25,486.94 226.54,486.94 227.83,486.95 229.12,486.95 230.41,486.95 231.71,486.95 233.00,486.96 234.29,486.96 235.58,486.96 236.87,486.97 238.16,486.97 239.46,486.98 240.75,486.98 242.04,486.99 243.33,486.99 244.62,486.99 245.91,487.00 247.21,487.00 248.50,487.01 249.79,487.02 251.08,487.02 252.37,487.03 253.66,487.03 254.95,487.04 256.24,487.05 257.53,487.05 258.83,487.06 260.12,487.07 261.41,487.08 262.70,487.09 263.99,487.09 265.28,487.10 266.57,487.11 267.86,487.12 269.15,487.13 270.44,487.14 271.73,487.15 273.02,487.16 274.31,487.17 275.60,487.19 276.89,487.20 278.18,487.21 279.47,487.22 280.76,487.24 282.05,487.25 283.34,487.26 284.63,487.28 285.92,487.29 287.21,487.31 288.50,487.32 289.79,487.34 291.08,487.36 292.36,487.37 293.65,487.39 294.94,487.41 296.23,487.43 297.52,487.45 298.81,487.47 300.10,487.49 301.38,487.51 302.67,487.53 303.96,487.55 305.25,487.57 306.54,487.60 307.82,487.62 309.11,487.64 310.40,487.67 311.69,487.70 312.97,487.72 314.26,487.75 315.55,487.78 316.84,487.81 318.12,487.83 319.41,487.86 320.70,487.90 321.98,487.93 323.27,487.96 324.56,487.99 325.84,488.03 327.13,488.06 328.41,488.10 329.70,488.13 330.99,488.17 332.27,488.21 333.56,488.25 334.84,488.29 336.13,488.33 337.41,488.37 338.70,488.41 339.98,488.45 341.27,488.50 342.55,488.54 343.84,488.59 345.12,488.64 346.40,488.69 347.69,488.74 348.97,488.79 350.25,488.84 351.54,488.89 352.82,488.94 354.11,489.00 355.39,489.06 356.67,489.11 357.95,489.17 359.24,489.23 360.52,489.29 361.80,489.36 363.08,489.42 364.37,489.48 365.65,489.55 366.93,489.62 368.21,489.69 369.49,489.76 370.77,489.83 372.05,489.90 373.33,489.97 374.62,490.05 375.90,490.13 377.18,490.20 378.46,490.28 379.74,490.37 381.02,490.45 382.30,490.53 383.58,490.62 384.85,490.71 386.13,490.80 387.41,490.89 388.69,490.98 389.97,491.07 391.25,491.17 392.53,491.27 393.80,491.37 395.08,491.47 396.36,491.57 397.64,491.68 398.91,491.78 400.19,491.89 401.47,492.00 402.74,492.11 404.02,492.23 405.30,492.34 406.57,492.46 407.85,492.58 409.13,492.70 410.40,492.83 411.68,492.95 412.95,493.08 414.23,493.21 415.50,493.34 416.77,493.48 418.05,493.61 419.32,493.75 420.60,493.89 421.87,494.04 423.14,494.18 424.42,494.33 425.69,494.48 426.96,494.63 428.23,494.79 429.51,494.95 430.78,495.11 432.05,495.27 433.32,495.43 434.59,495.60 435.86,495.77 437.13,495.94 438.41,496.12 439.68,496.29 440.95,496.47 442.22,496.66 443.49,496.84 444.76,497.03 446.02,497.22 447.29,497.42 448.56,497.61 449.83,497.81 451.10,498.01 452.37,498.22 453.63,498.43 454.90,498.64 456.17,498.85 457.44,499.07 458.70,499.29 459.97,499.51 461.24,499.74 462.50,499.97 463.77,500.20 465.03,500.44 466.30,500.68 467.57,500.92 468.83,501.17 470.10,501.41 471.36,501.67 472.62,501.92 473.89,502.18 475.15,502.45 476.42,502.71 477.68,502.98 478.94,503.25 480.21,503.53 481.47,503.81 482.73,504.10 483.99,504.38 485.25,504.68 486.52,504.97 487.78,505.27 489.04,505.57 490.30,505.88 491.56,506.19 492.82,506.51 494.08,506.83 495.34,507.15 496.60,507.48 497.86,507.81 499.12,508.14 500.38,508.48 501.64,508.83 502.90,509.17 504.16,509.53 505.41,509.88 506.67,510.24 507.93,510.61 509.19,510.98 510.45,511.35 511.70,511.73 512.96,512.11 514.22,512.50 515.47,512.89 516.73,513.29 517.99,513.69 519.24,514.10 520.50,514.51 521.75,514.93 523.01,515.35 524.27,515.78 525.52,516.21 526.78,516.64 528.03,517.08 529.28,517.53 530.54,517.98 531.79,518.44 533.05,518.90 534.30,519.37 535.56,519.84 536.81,520.32 538.06,520.80 539.32,521.29 540.57,521.78 541.82,522.28 543.08,522.78 544.33,523.30 545.58,523.81 546.83,524.33 548.09,524.86 549.34,525.39 550.59,525.93 551.84,526.48 553.09,527.03 554.35,527.59 555.60,528.15 556.85,528.72 558.10,529.30 559.35,529.88 560.60,530.47 561.86,531.06 563.11,531.66 564.36,532.27 565.61,532.88 566.86,533.50 568.11,534.13 569.36,534.76 570.61,535.40 571.86,536.05 573.11,536.70 574.36,537.36 575.62,538.03 576.87,538.70 578.12,539.38 579.37,540.07 580.62,540.76 581.87,541.46 583.12,542.17 584.37,542.89 585.62,543.61 586.87,544.35 588.12,545.08 589.37,545.83 590.62,546.58 591.87,547.34 593.13,548.11 594.38,548.89 595.63,549.67 596.88,550.47 598.13,551.27 599.38,552.07 600.63,552.89 601.88,553.71 603.13,554.55 604.39,555.39 605.64,556.23 606.89,557.09 608.14,557.96 609.39,558.83 610.64,559.71 611.90,560.60 613.15,561.50 614.40,562.41 615.65,563.33 616.91,564.25 618.16,565.19 619.41,566.13 620.66,567.08 621.92,568.04 623.17,569.01 624.42,569.99 625.68,570.98 626.93,571.98 628.19,572.99 629.44,574.01 630.69,575.03 631.95,576.07 633.20,577.12 634.46,578.17 635.71,579.24 636.97,580.31 638.22,581.40 639.48,582.50 640.73,583.60 641.97,584.70 641.97,584.70 640.73,585.80 639.48,586.90 638.22,588.00 636.97,589.09 635.71,590.16 634.46,591.23 633.20,592.28 631.95,593.33 630.69,594.37 629.44,595.39 628.19,596.41 626.93,597.42 625.68,598.42 624.42,599.41 623.17,600.39 621.92,601.36 620.66,602.32 619.41,603.27 618.16,604.21 616.91,605.15 615.65,606.07 614.40,606.99 613.15,607.90 611.90,608.80 610.64,609.69 609.39,610.57 608.14,611.44 606.89,612.31 605.64,613.17 604.39,614.01 603.13,614.85 601.88,615.69 600.63,616.51 599.38,617.33 598.13,618.13 596.88,618.93 595.63,619.73 594.38,620.51 593.13,621.29 591.87,622.06 590.62,622.82 589.37,623.57 588.12,624.32 586.87,625.05 585.62,625.79 584.37,626.51 583.12,627.23 581.87,627.94 580.62,628.64 579.37,629.33 578.12,630.02 576.87,630.70 575.62,631.37 574.36,632.04 573.11,632.70 571.86,633.35 570.61,634.00 569.36,634.64 568.11,635.27 566.86,635.90 565.61,636.52 564.36,637.13 563.11,637.74 561.86,638.34 560.60,638.93 559.35,639.52 558.10,640.10 556.85,640.68 555.60,641.25 554.35,641.81 553.09,642.37 551.84,642.92 550.59,643.47 549.34,644.01 548.09,644.54 546.83,645.07 545.58,645.59 544.33,646.10 543.08,646.62 541.82,647.12 540.57,647.62 539.32,648.11 538.06,648.60 536.81,649.08 535.56,649.56 534.30,650.03 533.05,650.50 531.79,650.96 530.54,651.42 529.28,651.87 528.03,652.32 526.78,652.76 525.52,653.19 524.27,653.62 523.01,654.05 521.75,654.47 520.50,654.89 519.24,655.30 517.99,655.71 516.73,656.11 515.47,656.51 514.22,656.90 512.96,657.29 511.70,657.67 510.45,658.05 509.19,658.42 507.93,658.79 506.67,659.16 505.41,659.52 504.16,659.87 502.90,660.23 501.64,660.57 500.38,660.92 499.12,661.26 497.86,661.59 496.60,661.92 495.34,662.25 494.08,662.57 492.82,662.89 491.56,663.21 490.30,663.52 489.04,663.83 487.78,664.13 486.52,664.43 485.25,664.72 483.99,665.02 482.73,665.30 481.47,665.59 480.21,665.87 478.94,666.15 477.68,666.42 476.42,666.69 475.15,666.95 473.89,667.22 472.62,667.48 471.36,667.73 470.10,667.99 468.83,668.23 467.57,668.48 466.30,668.72 465.03,668.96 463.77,669.20 462.50,669.43 461.24,669.66 459.97,669.89 458.70,670.11 457.44,670.33 456.17,670.55 454.90,670.76 453.63,670.97 452.37,671.18 451.10,671.39 449.83,671.59 448.56,671.79 447.29,671.98 446.02,672.18 444.76,672.37 443.49,672.56 442.22,672.74 440.95,672.93 439.68,673.11 438.41,673.28 437.13,673.46 435.86,673.63 434.59,673.80 433.32,673.97 432.05,674.13 430.78,674.29 429.51,674.45 428.23,674.61 426.96,674.77 425.69,674.92 424.42,675.07 423.14,675.22 421.87,675.36 420.60,675.51 419.32,675.65 418.05,675.79 416.77,675.92 415.50,676.06 414.23,676.19 412.95,676.32 411.68,676.45 410.40,676.57 409.13,676.70 407.85,676.82 406.57,676.94 405.30,677.06 404.02,677.17 402.74,677.29 401.47,677.40 400.19,677.51 398.91,677.62 397.64,677.72 396.36,677.83 395.08,677.93 393.80,678.03 392.53,678.13 391.25,678.23 389.97,678.33 388.69,678.42 387.41,678.51 386.13,678.60 384.85,678.69 383.58,678.78 382.30,678.87 381.02,678.95 379.74,679.03 378.46,679.12 377.18,679.20 375.90,679.27 374.62,679.35 373.33,679.43 372.05,679.50 370.77,679.57 369.49,679.64 368.21,679.71 366.93,679.78 365.65,679.85 364.37,679.92 363.08,679.98 361.80,680.04 360.52,680.11 359.24,680.17 357.95,680.23 356.67,680.29 355.39,680.34 354.11,680.40 352.82,680.46 351.54,680.51 350.25,680.56 348.97,680.61 347.69,680.66 346.40,680.71 345.12,680.76 343.84,680.81 342.55,680.86 341.27,680.90 339.98,680.95 338.70,680.99 337.41,681.03 336.13,681.07 334.84,681.11 333.56,681.15 332.27,681.19 330.99,681.23 329.70,681.27 328.41,681.30 327.13,681.34 325.84,681.37 324.56,681.41 323.27,681.44 321.98,681.47 320.70,681.50 319.41,681.54 318.12,681.57 316.84,681.59 315.55,681.62 314.26,681.65 312.97,681.68 311.69,681.70 310.40,681.73 309.11,681.76 307.82,681.78 306.54,681.80 305.25,681.83 303.96,681.85 302.67,681.87 301.38,681.89 300.10,681.91 298.81,681.93 297.52,681.95 296.23,681.97 294.94,681.99 293.65,682.01 292.36,682.03 291.08,682.04 289.79,682.06 288.50,682.08 287.21,682.09 285.92,682.11 284.63,682.12 283.34,682.14 282.05,682.15 280.76,682.16 279.47,682.18 278.18,682.19 276.89,682.20 275.60,682.21 274.31,682.23 273.02,682.24 271.73,682.25 270.44,682.26 269.15,682.27 267.86,682.28 266.57,682.29 265.28,682.30 263.99,682.31 262.70,682.31 261.41,682.32 260.12,682.33 258.83,682.34 257.53,682.35 256.24,682.35 254.95,682.36 253.66,682.37 252.37,682.37 251.08,682.38 249.79,682.38 248.50,682.39 247.21,682.40 245.91,682.40 244.62,682.41 243.33,682.41 242.04,682.41 240.75,682.42 239.46,682.42 238.16,682.43 236.87,682.43 235.58,682.44 234.29,682.44 233.00,682.44 231.71,682.45 230.41,682.45 229.12,682.45 227.83,682.45 226.54,682.46 225.25,682.46 223.95,682.46 222.66,682.46 221.37,682.47 220.08,682.47 218.78,682.47 217.49,682.47 216.20,682.47 214.91,682.48 213.61,682.48 212.32,682.48 211.03,682.48 209.74,682.48 208.44,682.48 207.15,682.48 205.86,682.49 204.57,682.49 203.27,682.49 201.98,682.49 200.69,682.49 199.40,682.49 198.10,682.49 196.81,682.49 195.52,682.49 194.22,682.49 192.93,682.49 191.64,682.49 190.35,682.50 189.05,682.50 187.76,682.50 186.47,682.50 185.17,682.50 183.88,682.50 182.59,682.50 181.29,682.50 180.00,682.50 178.71,682.50 177.42,682.50 176.12,682.50 174.83,682.50 173.54,682.50 172.24,682.50 170.95,682.50 169.66,682.50 168.36,682.50 167.07,682.50 165.78,682.50 164.48,682.50 163.19,682.50 161.90,682.50 160.60,682.50 159.31,682.50 158.02,682.50 156.73,682.50 155.43,682.50 154.14,682.50 152.85,682.50 151.55,682.50 150.26,682.50 148.97,682.50 147.67,682.50 146.38,682.50 145.09,682.50 143.79,682.50 142.50,682.50" fill="none" stroke="#111111" stroke-width="1.25"/>
<line x1="200.6" y1="486.90000281634036" x2="200.6" y2="682.4999971836597" stroke="#111111" stroke-width="1.25" />
<line x1="245" y1="486.90000281634036" x2="245" y2="682.4999971836597" stroke="#111111" stroke-width="1.25" />
<line x1="526.6" y1="516.5811518600674" x2="526.6" y2="652.8188481399327" stroke="#111111" stroke-width="1.25" />
<line x1="577.4" y1="538.9900048386129" x2="577.4" y2="630.4099951613872" stroke="#111111" stroke-width="1.25" />
<line x1="580.6" y1="540.7526384763631" x2="580.6" y2="628.647361523637" stroke="#111111" stroke-width="1.25" />
<line x1="212.3" y1="480.0" x2="277.0" y2="480.0" stroke="#3d5bb0" stroke-width="4.6" stroke-linecap="round"/>
<line x1="212.3" y1="480.0" x2="277.0" y2="480.0" stroke="#6d8ee6" stroke-width="3.0" stroke-linecap="round"/>
<line x1="212.3" y1="689.1" x2="277.0" y2="689.1" stroke="#3d5bb0" stroke-width="4.6" stroke-linecap="round"/>
<line x1="212.3" y1="689.1" x2="277.0" y2="689.1" stroke="#6d8ee6" stroke-width="3.0" stroke-linecap="round"/>
<line x1="524.0" y1="510.0" x2="588.0" y2="538.2" stroke="#3d5bb0" stroke-width="4.6" stroke-linecap="round"/>
<line x1="524.0" y1="510.0" x2="588.0" y2="538.2" stroke="#6d8ee6" stroke-width="3.0" stroke-linecap="round"/>
<line x1="524.0" y1="659.0" x2="588.0" y2="631.5" stroke="#3d5bb0" stroke-width="4.6" stroke-linecap="round"/>
<line x1="524.0" y1="659.0" x2="588.0" y2="631.5" stroke="#6d8ee6" stroke-width="3.0" stroke-linecap="round"/>
<rect x="492.8" y="500.5" width="11.5" height="5.4" fill="#dcdcdc" stroke="#111111" stroke-width="1" transform="rotate(14 498.5 503.2)"/>
<circle cx="498.5" cy="503.2" r="1.4" fill="none" stroke="#111111" stroke-width="0.8"/>
<rect x="492.8" y="663.0999999999999" width="11.5" height="5.4" fill="#dcdcdc" stroke="#111111" stroke-width="1" transform="rotate(-14 498.5 665.8)"/>
<circle cx="498.5" cy="665.8" r="1.4" fill="none" stroke="#111111" stroke-width="0.8"/>
<line x1="89.5" y1="475.5" x2="142.5" y2="475.5" stroke="#111111" stroke-width="1.0" />
<line x1="89.5" y1="693.6" x2="142.5" y2="693.6" stroke="#111111" stroke-width="1.0" />
<line x1="89.5" y1="475.5" x2="89.5" y2="693.6" stroke="#111111" stroke-width="1.0" />
<polygon points="89.50,475.50 87.70,482.50 91.30,482.50" fill="#111111"/>
<polygon points="89.50,693.60 87.70,686.60 91.30,686.60" fill="#111111"/>
<line x1="114" y1="486.90000281634036" x2="142.5" y2="486.90000281634036" stroke="#111111" stroke-width="1.0" />
<line x1="114" y1="539.6" x2="142.5" y2="539.6" stroke="#111111" stroke-width="1.0" />
<line x1="114" y1="629.8" x2="153.3" y2="629.8" stroke="#111111" stroke-width="1.0" />
<line x1="114" y1="486.90000281634036" x2="114" y2="539.6" stroke="#111111" stroke-width="1.0" />
<polygon points="114.00,486.90 112.20,493.90 115.80,493.90" fill="#111111"/>
<polygon points="114.00,539.60 112.20,532.60 115.80,532.60" fill="#111111"/>
<line x1="114" y1="539.6" x2="114" y2="629.8" stroke="#111111" stroke-width="1.0" />
<polygon points="114.00,539.60 112.20,546.60 115.80,546.60" fill="#111111"/>
<polygon points="114.00,629.80 112.20,622.80 115.80,622.80" fill="#111111"/>
<line x1="142.5" y1="693.6" x2="142.5" y2="741.5" stroke="#111111" stroke-width="1.0" />
<line x1="200.6" y1="682.4999971836597" x2="200.6" y2="720.5" stroke="#111111" stroke-width="1.0" />
<line x1="245.0" y1="682.4999971836597" x2="245.0" y2="720.5" stroke="#111111" stroke-width="1.0" />
<line x1="349.9" y1="671.0" x2="349.9" y2="720.5" stroke="#111111" stroke-width="1.0" />
<line x1="392.7" y1="671.0" x2="392.7" y2="720.5" stroke="#111111" stroke-width="1.0" />
<line x1="526.6" y1="652.8188481399327" x2="526.6" y2="720.5" stroke="#111111" stroke-width="1.0" />
<line x1="577.4" y1="630.4099951613872" x2="577.4" y2="720.5" stroke="#111111" stroke-width="1.0" />
<line x1="580.8" y1="628.535210952595" x2="580.8" y2="720.5" stroke="#111111" stroke-width="1.0" />
<line x1="584.8" y1="617.0" x2="584.8" y2="698.5" stroke="#111111" stroke-width="1.0" />
<line x1="626.3" y1="595.5" x2="626.3" y2="698.5" stroke="#111111" stroke-width="1.0" />
<line x1="658.5" y1="584.7" x2="658.5" y2="741.5" stroke="#111111" stroke-width="1.0" />
<line x1="142.5" y1="717.3" x2="200.6" y2="717.3" stroke="#111111" stroke-width="1.0" />
<polygon points="142.50,717.30 149.50,715.50 149.50,719.10" fill="#111111"/>
<polygon points="200.60,717.30 193.60,715.50 193.60,719.10" fill="#111111"/>
<line x1="200.6" y1="717.3" x2="245.0" y2="717.3" stroke="#111111" stroke-width="1.0" />
<polygon points="200.60,717.30 207.60,715.50 207.60,719.10" fill="#111111"/>
<polygon points="245.00,717.30 238.00,715.50 238.00,719.10" fill="#111111"/>
<line x1="349.9" y1="717.3" x2="392.7" y2="717.3" stroke="#111111" stroke-width="1.0" />
<polygon points="349.90,717.30 356.90,715.50 356.90,719.10" fill="#111111"/>
<polygon points="392.70,717.30 385.70,715.50 385.70,719.10" fill="#111111"/>
<line x1="526.6" y1="717.5" x2="577.4" y2="717.5" stroke="#111111" stroke-width="1.0" />
<polygon points="526.60,717.50 533.60,715.70 533.60,719.30" fill="#111111"/>
<polygon points="577.40,717.50 570.40,715.70 570.40,719.30" fill="#111111"/>
<line x1="580.8" y1="717.5" x2="658.5" y2="717.5" stroke="#111111" stroke-width="1.0" />
<polygon points="580.80,717.50 587.80,715.70 587.80,719.30" fill="#111111"/>
<polygon points="658.50,717.50 651.50,715.70 651.50,719.30" fill="#111111"/>
<line x1="584.8" y1="695.5" x2="626.3" y2="695.5" stroke="#111111" stroke-width="1.0" />
<polygon points="584.80,695.50 591.80,693.70 591.80,697.30" fill="#111111"/>
<polygon points="626.30,695.50 619.30,693.70 619.30,697.30" fill="#111111"/>
<line x1="142.5" y1="738.8" x2="658.5" y2="738.8" stroke="#111111" stroke-width="1.0" />
<polygon points="142.50,738.80 149.50,737.00 149.50,740.60" fill="#111111"/>
<polygon points="658.50,738.80 651.50,737.00 651.50,740.60" fill="#111111"/>
<line x1="598.5" y1="549.9" x2="716.5" y2="549.9" stroke="#111111" stroke-width="1.0" />
<line x1="598.5" y1="618.9" x2="716.5" y2="618.9" stroke="#111111" stroke-width="1.0" />
<line x1="713.2" y1="549.9" x2="713.2" y2="618.9" stroke="#111111" stroke-width="1.0" />
<polygon points="713.20,549.90 711.40,556.90 715.00,556.90" fill="#111111"/>
<polygon points="713.20,618.90 711.40,611.90 715.00,611.90" fill="#111111"/>
<line x1="498.9" y1="500.5" x2="498.9" y2="480.5" stroke="#111111" stroke-width="1.0" />
<line x1="526.6" y1="516.0" x2="526.6" y2="480.5" stroke="#111111" stroke-width="1.0" />
<line x1="498.9" y1="483.3" x2="526.6" y2="483.3" stroke="#111111" stroke-width="1.0" />
<polygon points="498.90,483.30 505.90,481.50 505.90,485.10" fill="#111111"/>
<polygon points="526.60,483.30 519.60,481.50 519.60,485.10" fill="#111111"/>
<line x1="236.0" y1="486.90000281634036" x2="236.0" y2="682.4999971836597" stroke="#111111" stroke-width="1.0" />
<polygon points="236.00,486.90 234.20,493.90 237.80,493.90" fill="#111111"/>
<polygon points="236.00,682.50 234.20,675.50 237.80,675.50" fill="#111111"/>
<line x1="200.6" y1="520.7" x2="268.0" y2="520.7" stroke="#111111" stroke-width="1.0" />
<line x1="200.6" y1="648.3" x2="268.0" y2="648.3" stroke="#111111" stroke-width="1.0" />
<line x1="265.8" y1="520.7" x2="265.8" y2="648.3" stroke="#111111" stroke-width="1.0" />
<polygon points="265.80,520.70 264.00,527.70 267.60,527.70" fill="#111111"/>
<polygon points="265.80,648.30 264.00,641.30 267.60,641.30" fill="#111111"/>
<line x1="313.1" y1="487.72468442453766" x2="313.1" y2="681.6753155754624" stroke="#111111" stroke-width="1.0" />
<polygon points="313.10,487.72 311.30,494.72 314.90,494.72" fill="#111111"/>
<polygon points="313.10,681.68 311.30,674.68 314.90,674.68" fill="#111111"/>
<line x1="392.7" y1="517.5" x2="415.0" y2="517.5" stroke="#111111" stroke-width="1.0" />
<line x1="392.7" y1="652.3" x2="415.0" y2="652.3" stroke="#111111" stroke-width="1.0" />
<line x1="413.0" y1="517.5" x2="413.0" y2="652.3" stroke="#111111" stroke-width="1.0" />
<polygon points="413.00,517.50 411.20,524.50 414.80,524.50" fill="#111111"/>
<polygon points="413.00,652.30 411.20,645.30 414.80,645.30" fill="#111111"/>
<line x1="392.7" y1="498.7" x2="435.0" y2="498.7" stroke="#111111" stroke-width="1.0" />
<line x1="392.7" y1="671.0" x2="435.0" y2="671.0" stroke="#111111" stroke-width="1.0" />
<line x1="432.4" y1="498.7" x2="432.4" y2="671.0" stroke="#111111" stroke-width="1.0" />
<polygon points="432.40,498.70 430.60,505.70 434.20,505.70" fill="#111111"/>
<polygon points="432.40,671.00 430.60,664.00 434.20,664.00" fill="#111111"/>
<line x1="510.5" y1="518.0" x2="526.6" y2="518.0" stroke="#111111" stroke-width="1.0" />
<line x1="510.5" y1="652.0" x2="526.6" y2="652.0" stroke="#111111" stroke-width="1.0" />
<line x1="513.3" y1="518.0" x2="513.3" y2="652.0" stroke="#111111" stroke-width="1.0" />
<polygon points="513.30,518.00 511.50,525.00 515.10,525.00" fill="#111111"/>
<polygon points="513.30,652.00 511.50,645.00 515.10,645.00" fill="#111111"/>
<line x1="544.5" y1="549.4" x2="544.5" y2="619.6" stroke="#111111" stroke-width="1.0" />
<polygon points="544.50,549.40 542.70,556.40 546.30,556.40" fill="#111111"/>
<polygon points="544.50,619.60 542.70,612.60 546.30,612.60" fill="#111111"/>
<rect x="765.4" y="592.3" width="116.2" height="56.2" fill="none" stroke="#111111" stroke-width="1.3"/>
<path d="M204.55,412.15 L206.97,403.26 M206.50,405.01 C207.38,403.70 208.30,403.26 209.28,403.26 C210.78,403.26 211.05,404.57 210.57,406.31 C210.10,408.06 209.12,409.36 207.61,409.36 C206.64,409.36 205.96,408.93 205.78,407.62 M213.00,403.26 L213.69,409.19 M217.43,403.26 L212.56,411.37 C212.13,411.98 211.64,412.15 210.93,412.15 M217.36,409.36 L219.02,403.26 M221.79,409.36 L223.45,403.26 M218.19,406.31 L222.62,406.31 M228.65,406.31 C229.12,404.57 228.68,403.26 227.26,403.26 C225.84,403.26 224.69,404.57 224.22,406.31 C223.74,408.06 224.18,409.36 225.60,409.36 C227.02,409.36 228.17,408.06 228.65,406.31 L229.36,403.70 C229.90,401.70 229.48,400.65 228.06,400.65 C227.35,400.65 226.75,400.91 226.28,401.35 M231.07,403.26 L231.76,409.19 M235.50,403.26 L230.64,411.37 C230.20,411.98 229.71,412.15 229.00,412.15 M235.43,409.36 L237.10,403.26 M236.22,406.49 L237.37,406.49 L241.35,403.26 M237.37,406.49 L239.87,409.36" fill="none" stroke="#111" stroke-width="1.3" stroke-linecap="round" stroke-linejoin="round"/>
<path d="M251.65,415.12 L251.65,410.32 L255.24,414.19 C255.24,412.03 256.34,411.36 258.09,411.86 C259.93,412.39 260.85,413.83 260.85,415.40 C260.85,416.57 260.39,417.32 259.47,417.65 M251.65,405.56 C251.65,407.67 254.23,408.99 256.25,409.57 C258.27,410.15 260.85,410.30 260.85,408.19 C260.85,406.08 258.27,404.76 256.25,404.18 C254.23,403.60 251.65,403.45 251.65,405.56 L251.65,405.56 M251.65,398.40 C251.65,400.51 254.23,401.84 256.25,402.41 C258.27,402.99 260.85,403.14 260.85,401.03 C260.85,398.92 258.27,397.60 256.25,397.02 C254.23,396.44 251.65,396.30 251.65,398.40 L251.65,398.40" fill="none" stroke="#111" stroke-width="1.3" stroke-linecap="round" stroke-linejoin="round"/>
<path d="M318.45,397.96 L318.45,402.04 L322.32,403.53 C321.88,402.84 321.62,402.00 321.62,401.15 C321.62,399.54 322.76,398.92 324.43,399.41 C326.19,399.91 327.25,401.26 327.25,402.87 C327.25,404.01 326.81,404.74 325.93,405.05 M320.21,396.20 C318.98,395.46 318.45,394.36 318.45,393.32 C318.45,391.80 319.33,391.20 320.74,391.61 C322.32,392.07 323.38,393.79 327.25,398.51 L327.25,393.30 M318.45,386.45 C318.45,388.48 320.91,389.76 322.85,390.32 C324.79,390.88 327.25,391.02 327.25,388.99 C327.25,386.95 324.79,385.67 322.85,385.11 C320.91,384.55 318.45,384.41 318.45,386.45 L318.45,386.45" fill="none" stroke="#111" stroke-width="1.3" stroke-linecap="round" stroke-linejoin="round"/>
<path d="M374.53,450.77 C375.29,449.50 376.42,448.95 377.49,448.95 C379.06,448.95 379.67,449.86 379.25,451.32 C378.78,452.95 377.01,454.05 372.15,458.05 L377.51,458.05 M382.18,448.95 L386.95,448.95 L383.11,452.50 C385.25,452.50 385.91,453.59 385.42,455.32 C384.90,457.14 383.46,458.05 381.90,458.05 C380.73,458.05 379.99,457.60 379.66,456.69 M389.00,448.95 L394.37,448.95 L387.95,458.05 M398.80,448.95 C396.71,448.95 395.39,451.50 394.82,453.50 C394.24,455.50 394.09,458.05 396.19,458.05 C398.29,458.05 399.60,455.50 400.18,453.50 C400.75,451.50 400.90,448.95 398.80,448.95 L398.80,448.95" fill="none" stroke="#111" stroke-width="1.3" stroke-linecap="round" stroke-linejoin="round"/>
<path d="M352.85,411.95 L355.26,403.99 M354.79,405.55 C355.67,404.38 356.58,403.99 357.55,403.99 C359.05,403.99 359.31,405.16 358.84,406.72 C358.37,408.28 357.39,409.45 355.90,409.45 C354.93,409.45 354.25,409.06 354.08,407.89 M361.25,403.99 L361.94,409.30 M365.66,403.99 L360.82,411.25 C360.39,411.79 359.90,411.95 359.19,411.95 M365.59,409.45 L367.24,403.99 M370.00,409.45 L371.65,403.99 M366.42,406.72 L370.82,406.72 M376.82,406.72 C377.29,405.16 376.85,403.99 375.44,403.99 C374.03,403.99 372.88,405.16 372.41,406.72 C371.94,408.28 372.38,409.45 373.79,409.45 C375.20,409.45 376.34,408.28 376.82,406.72 L377.52,404.38 C378.07,402.59 377.65,401.65 376.24,401.65 C375.53,401.65 374.93,401.88 374.46,402.27 M379.23,403.99 L379.91,409.30 M383.63,403.99 L378.79,411.25 C378.36,411.79 377.88,411.95 377.17,411.95 M383.57,409.45 L385.22,403.99 M384.35,406.88 L385.49,406.88 L389.45,403.99 M385.49,406.88 L387.97,409.45" fill="none" stroke="#111" stroke-width="1.3" stroke-linecap="round" stroke-linejoin="round"/>
<path d="M403.05,414.81 L403.05,410.16 L406.60,413.90 C406.60,411.82 407.69,411.17 409.42,411.66 C411.24,412.16 412.15,413.56 412.15,415.07 C412.15,416.21 411.70,416.94 410.79,417.25 M403.05,405.57 C403.05,407.60 405.60,408.88 407.60,409.44 C409.60,410.00 412.15,410.14 412.15,408.11 C412.15,406.07 409.60,404.79 407.60,404.23 C405.60,403.67 403.05,403.53 403.05,405.57 L403.05,405.57 M403.05,398.65 C403.05,400.68 405.60,401.96 407.60,402.52 C409.60,403.08 412.15,403.22 412.15,401.19 C412.15,399.15 409.60,397.87 407.60,397.31 C405.60,396.75 403.05,396.61 403.05,398.65 L403.05,398.65" fill="none" stroke="#111" stroke-width="1.3" stroke-linecap="round" stroke-linejoin="round"/>
<path d="M498.65,414.07 L498.65,409.36 L503.10,413.15 C503.10,411.04 504.46,410.38 506.63,410.87 C508.91,411.39 510.05,412.80 510.05,414.34 C510.05,415.49 509.48,416.23 508.34,416.55 M498.65,404.69 C498.65,406.76 501.84,408.06 504.35,408.63 C506.86,409.19 510.05,409.34 510.05,407.27 C510.05,405.20 506.86,403.90 504.35,403.34 C501.84,402.77 498.65,402.62 498.65,404.69 L498.65,404.69 M498.65,397.67 C498.65,399.74 501.84,401.04 504.35,401.61 C506.86,402.17 510.05,402.32 510.05,400.25 C510.05,398.18 506.86,396.88 504.35,396.31 C501.84,395.75 498.65,395.60 498.65,397.67 L498.65,397.67" fill="none" stroke="#111" stroke-width="1.3" stroke-linecap="round" stroke-linejoin="round"/>
<path d="M533.75,412.15 L536.07,403.50 M535.61,405.19 C536.46,403.92 537.34,403.50 538.27,403.50 C539.71,403.50 539.96,404.77 539.51,406.47 C539.06,408.16 538.12,409.43 536.68,409.43 C535.75,409.43 535.10,409.01 534.93,407.74 M541.83,403.50 L542.49,409.27 M546.07,403.50 L541.41,411.39 C541.00,411.98 540.53,412.15 539.85,412.15 M546.00,409.43 L547.59,403.50 M550.24,409.43 L551.83,403.50 M546.80,406.47 L551.04,406.47 M556.80,406.47 C557.25,404.77 556.83,403.50 555.47,403.50 C554.12,403.50 553.02,404.77 552.56,406.47 C552.11,408.16 552.53,409.43 553.88,409.43 C555.24,409.43 556.34,408.16 556.80,406.47 L557.48,403.92 C558.00,401.97 557.60,400.95 556.24,400.95 C555.56,400.95 554.99,401.20 554.53,401.63 M559.12,403.50 L559.78,409.27 M563.36,403.50 L558.70,411.39 C558.29,411.98 557.82,412.15 557.14,412.15 M563.29,409.43 L564.88,403.50 M564.04,406.63 L565.14,406.63 L568.95,403.50 M565.14,406.63 L567.53,409.43" fill="none" stroke="#111" stroke-width="1.3" stroke-linecap="round" stroke-linejoin="round"/>
<path d="M664.85,386.09 C663.45,385.34 662.85,384.21 662.85,383.15 C662.85,381.60 663.85,380.99 665.45,381.41 C667.25,381.87 668.45,383.63 672.85,388.45 L672.85,383.13 M663.65,374.27 C663.05,374.60 662.85,375.22 662.85,375.99 C662.85,377.83 664.85,379.32 667.85,380.09 C671.25,380.98 672.85,380.42 672.85,378.73 C672.85,377.04 671.55,375.74 669.85,375.29 C668.05,374.83 666.85,375.48 666.85,377.18 C666.85,378.58 667.75,379.78 669.25,380.46 M662.85,369.08 C662.85,371.16 665.65,372.47 667.85,373.04 C670.05,373.61 672.85,373.75 672.85,371.67 C672.85,369.59 670.05,368.29 667.85,367.72 C665.65,367.15 662.85,367.00 662.85,369.08 L662.85,369.08" fill="none" stroke="#111" stroke-width="1.3" stroke-linecap="round" stroke-linejoin="round"/>
<path d="M593.06,375.79 L594.79,370.38 L592.72,370.38 C591.68,370.38 590.93,370.92 590.67,371.73 C590.41,372.54 590.82,373.08 591.85,373.08 L593.92,373.08 M591.98,373.08 L589.18,375.79 M594.22,375.79 L595.43,372.00 M594.79,374.00 L595.63,374.00 L598.54,372.00 M595.63,374.00 L597.45,375.79 M601.45,372.00 C600.28,372.00 599.54,372.92 599.22,373.90 C598.91,374.87 599.07,375.79 600.23,375.79 C601.40,375.79 602.15,374.87 602.46,373.90 C602.77,372.92 602.61,372.00 601.45,372.00 L601.45,372.00 M602.46,377.52 L604.23,372.00 M603.88,373.08 C604.53,372.27 605.20,372.00 605.91,372.00 C607.01,372.00 607.20,372.81 606.86,373.90 C606.51,374.98 605.80,375.79 604.70,375.79 C603.98,375.79 603.49,375.52 603.36,374.71 M607.41,375.79 L608.63,372.00 M610.65,375.79 L611.86,372.00 M608.02,373.90 L611.25,373.90 M613.02,372.00 L611.81,375.79 L613.10,375.79 C613.94,375.79 614.54,375.36 614.74,374.71 C614.95,374.06 614.64,373.62 613.80,373.62 L612.50,373.62 M617.23,372.00 L616.01,375.79 M618.39,372.00 L617.18,375.79 L621.62,372.00 L620.41,375.79 M619.74,370.81 C619.86,371.24 620.64,371.24 621.04,370.81" fill="none" stroke="#111" stroke-width="0.95" stroke-linecap="round" stroke-linejoin="round"/>
<path d="M592.46,386.83 L593.69,382.78 L591.92,382.78 C591.06,382.78 590.41,383.18 590.20,383.88 C589.99,384.57 590.39,384.98 591.25,384.98 L593.02,384.98 M591.38,384.98 L589.18,386.83 M594.87,382.78 L593.64,386.83 L597.57,386.83 L598.80,382.78 M596.84,382.78 L595.61,386.83 M597.57,386.83 L597.97,386.83 L597.76,387.52 M600.31,382.78 L599.08,386.83 L603.59,382.78 L602.36,386.83 M603.54,386.83 L604.78,382.78 M604.12,384.92 L604.98,384.92 L607.92,382.78 M604.98,384.92 L606.83,386.83" fill="none" stroke="#111" stroke-width="0.95" stroke-linecap="round" stroke-linejoin="round"/>
<path d="M72.40,351.26 L72.40,345.96 L75.70,350.23 C75.70,347.85 76.71,347.11 78.32,347.66 C80.01,348.24 80.86,349.83 80.86,351.56 C80.86,352.86 80.43,353.69 79.59,354.05 M76.12,341.98 C76.12,343.66 75.36,344.27 74.26,343.89 C73.16,343.51 72.40,342.28 72.40,340.71 C72.40,339.14 73.16,338.43 74.26,338.80 C75.36,339.18 76.12,340.31 76.12,341.98 C76.12,343.88 77.05,345.28 78.49,345.77 C80.01,346.29 80.86,345.50 80.86,343.61 C80.86,341.71 80.01,340.34 78.49,339.82 C77.05,339.33 76.12,340.09 76.12,341.98 L76.12,341.98 M72.40,332.81 C72.40,335.13 74.77,336.60 76.63,337.23 C78.49,337.87 80.86,338.03 80.86,335.71 C80.86,333.38 78.49,331.92 76.63,331.28 C74.77,330.64 72.40,330.48 72.40,332.81 L72.40,332.81 M81.28,330.93 L71.97,323.41 M72.40,315.98 L72.40,320.63 L76.12,322.34 C75.70,321.55 75.44,320.59 75.44,319.62 C75.44,317.78 76.54,317.07 78.15,317.63 C79.84,318.21 80.86,319.74 80.86,321.58 C80.86,322.88 80.43,323.71 79.59,324.07 M74.26,313.69 L72.40,310.13 L80.86,313.03 M72.40,304.99 C72.40,307.32 74.77,308.78 76.63,309.42 C78.49,310.06 80.86,310.22 80.86,307.89 C80.86,305.57 78.49,304.10 76.63,303.47 C74.77,302.83 72.40,302.67 72.40,304.99 L72.40,304.99 M71.55,296.96 C73.24,299.38 74.93,300.94 77.05,301.66 C79.17,302.39 80.86,301.99 82.55,300.74 M73.58,289.44 C72.73,289.69 72.40,290.65 72.40,292.06 C72.40,293.79 73.16,295.24 74.43,295.68 C77.13,296.61 76.12,290.09 78.74,290.99 C80.18,291.48 80.86,293.01 80.86,294.96 C80.86,296.58 80.43,297.52 79.50,297.74 M81.28,289.91 L71.97,282.39 M72.40,280.59 L80.86,283.49 L80.86,278.08 M71.55,272.94 C73.24,271.68 74.93,271.28 77.05,272.01 C79.17,272.73 80.86,274.29 82.55,276.71" fill="none" stroke="#111" stroke-width="1.3" stroke-linecap="round" stroke-linejoin="round"/>
<path d="M893.95,407.94 L893.95,402.80 L903.85,408.95 M893.95,398.55 C893.95,400.56 896.72,401.82 898.90,402.37 C901.08,402.92 903.85,403.06 903.85,401.05 C903.85,399.04 901.08,397.78 898.90,397.23 C896.72,396.68 893.95,396.54 893.95,398.55 L893.95,398.55 M893.95,391.72 C893.95,393.73 896.72,394.99 898.90,395.55 C901.08,396.10 903.85,396.24 903.85,394.23 C903.85,392.22 901.08,390.96 898.90,390.40 C896.72,389.85 893.95,389.71 893.95,391.72 L893.95,391.72" fill="none" stroke="#111" stroke-width="1.3" stroke-linecap="round" stroke-linejoin="round"/>
<path d="M733.88,222.24 L738.07,222.24 M749.01,216.18 L742.98,216.18 L740.09,226.62 L743.43,226.62 C745.37,226.62 746.87,225.48 747.39,223.59 C747.91,221.71 747.04,220.56 745.10,220.56 L741.77,220.56 M749.46,226.62 C750.75,226.62 751.85,225.37 752.98,222.44 L755.36,216.18 L758.81,216.18 L755.92,226.62 M764.94,216.18 C762.47,216.18 760.91,219.10 760.27,221.40 C759.64,223.70 759.58,226.62 762.06,226.62 C764.53,226.62 766.10,223.70 766.73,221.40 C767.37,219.10 767.42,216.18 764.94,216.18 L764.94,216.18 M768.20,226.62 L771.08,216.18 M777.54,216.18 L769.62,222.24 M772.05,220.46 L774.66,226.62 M780.45,216.18 L777.56,226.62 L786.91,216.18 L784.02,226.62 M793.07,226.62 L795.95,216.18 L802.42,216.18 L799.53,226.62 M802.44,226.62 C803.73,226.62 804.83,225.37 805.96,222.44 L808.34,216.18 L811.78,216.18 L808.90,226.62 M811.80,226.62 L817.92,216.18 L818.26,226.62 M813.83,223.18 L818.14,223.18 M821.17,226.62 L824.06,216.18 L827.29,216.18 C828.90,216.18 829.64,217.01 829.24,218.47 C828.83,219.94 827.60,220.88 825.99,220.88 L822.76,220.88 M825.99,220.88 C828.14,220.88 828.93,221.92 828.44,223.70 C827.92,225.58 826.56,226.62 824.62,226.62 L821.17,226.62 M833.43,216.18 L834.80,223.28 M839.89,216.18 L833.60,225.68 C833.07,226.42 832.37,226.62 831.40,226.62 M842.79,216.18 L841.93,219.31 C841.47,220.98 842.25,222.03 844.19,222.03 L847.64,222.03 M849.25,216.18 L846.37,226.62 M858.62,216.18 L852.16,216.18 L849.28,226.62 L855.74,226.62 M850.75,221.30 L855.70,221.30 M867.50,217.95 C867.41,216.70 866.37,216.18 864.97,216.18 C862.82,216.18 860.95,218.27 860.09,221.40 C859.22,224.53 859.94,226.62 862.09,226.62 C863.49,226.62 864.82,226.10 865.59,224.85 M870.90,216.18 L877.36,216.18 M874.13,216.18 L871.24,226.62 M880.26,216.18 L877.38,226.62 L886.73,216.18 L883.84,226.62" fill="none" stroke="#111" stroke-width="1.35" stroke-linecap="round" stroke-linejoin="round"/>
<path d="M79.20,597.35 L77.15,593.97 L86.45,596.72 M77.89,587.10 C77.34,587.45 77.15,588.11 77.15,588.94 C77.15,590.89 79.01,592.47 81.80,593.29 C84.96,594.23 86.45,593.64 86.45,591.84 C86.45,590.05 85.24,588.66 83.66,588.19 C81.99,587.70 80.87,588.39 80.87,590.19 C80.87,591.68 81.71,592.96 83.10,593.68 M77.15,579.07 L77.15,583.49 L81.24,585.11 C80.78,584.36 80.50,583.45 80.50,582.53 C80.50,580.78 81.71,580.11 83.47,580.64 C85.33,581.19 86.45,582.65 86.45,584.39 C86.45,585.63 85.98,586.41 85.05,586.76 M77.15,574.09 C77.15,576.30 79.75,577.69 81.80,578.29 C83.85,578.90 86.45,579.05 86.45,576.84 C86.45,574.63 83.85,573.25 81.80,572.64 C79.75,572.03 77.15,571.88 77.15,574.09 L77.15,574.09" fill="none" stroke="#111" stroke-width="1.3" stroke-linecap="round" stroke-linejoin="round"/>
<path d="M100.95,521.75 L100.95,516.81 L104.89,520.79 C104.89,518.57 106.10,517.88 108.02,518.40 C110.04,518.94 111.05,520.42 111.05,522.03 C111.05,523.24 110.55,524.02 109.53,524.35 M100.95,514.39 L100.95,509.45 L104.89,513.42 C104.89,511.21 106.10,510.52 108.02,511.04 C110.04,511.58 111.05,513.06 111.05,514.67 C111.05,515.88 110.55,516.65 109.53,516.99 M100.95,504.55 C100.95,506.72 103.78,508.08 106.00,508.68 C108.22,509.27 111.05,509.43 111.05,507.26 C111.05,505.09 108.22,503.73 106.00,503.13 C103.78,502.54 100.95,502.39 100.95,504.55 L100.95,504.55" fill="none" stroke="#111" stroke-width="1.3" stroke-linecap="round" stroke-linejoin="round"/>
<path d="M101.76,588.76 C101.15,589.09 100.95,589.72 100.95,590.50 C100.95,592.36 102.97,593.85 106.00,594.64 C109.43,595.53 111.05,594.97 111.05,593.26 C111.05,591.55 109.74,590.24 108.02,589.79 C106.20,589.32 104.99,589.99 104.99,591.69 C104.99,593.11 105.90,594.32 107.41,595.01 M100.95,583.52 C100.95,585.62 103.78,586.94 106.00,587.51 C108.22,588.09 111.05,588.24 111.05,586.14 C111.05,584.04 108.22,582.72 106.00,582.15 C103.78,581.57 100.95,581.42 100.95,583.52 L100.95,583.52 M100.95,576.40 C100.95,578.50 103.78,579.81 106.00,580.39 C108.22,580.96 111.05,581.11 111.05,579.01 C111.05,576.91 108.22,575.60 106.00,575.02 C103.78,574.44 100.95,574.30 100.95,576.40 L100.95,576.40" fill="none" stroke="#111" stroke-width="1.3" stroke-linecap="round" stroke-linejoin="round"/>
<path d="M168.90,704.65 L164.85,704.65 L163.36,709.09 C164.05,708.59 164.88,708.29 165.73,708.29 C167.33,708.29 167.95,709.60 167.47,711.52 C166.96,713.54 165.62,714.75 164.02,714.75 C162.89,714.75 162.16,714.25 161.85,713.24 M175.79,704.65 L171.73,704.65 L170.24,709.09 C170.94,708.59 171.77,708.29 172.61,708.29 C174.22,708.29 174.83,709.60 174.35,711.52 C173.85,713.54 172.51,714.75 170.90,714.75 C169.77,714.75 169.05,714.25 168.74,713.24 M180.36,704.65 C178.33,704.65 177.06,707.48 176.50,709.70 C175.95,711.92 175.81,714.75 177.83,714.75 C179.86,714.75 181.14,711.92 181.69,709.70 C182.25,707.48 182.39,704.65 180.36,704.65 L180.36,704.65" fill="none" stroke="#111" stroke-width="1.3" stroke-linecap="round" stroke-linejoin="round"/>
<path d="M216.83,714.75 L219.67,704.65 L213.35,711.72 L219.27,711.72 M223.06,706.87 L226.54,704.65 L223.70,714.75 M231.56,704.65 C229.29,704.65 227.86,707.48 227.24,709.70 C226.61,711.92 226.45,714.75 228.73,714.75 C231.00,714.75 232.43,711.92 233.05,709.70 C233.67,707.48 233.83,704.65 231.56,704.65 L231.56,704.65" fill="none" stroke="#111" stroke-width="1.3" stroke-linecap="round" stroke-linejoin="round"/>
<path d="M217.95,609.85 L207.60,606.61 M209.63,607.25 C208.10,606.06 207.60,604.83 207.60,603.53 C207.60,601.52 209.12,601.17 211.15,601.80 C213.18,602.43 214.70,603.74 214.70,605.75 C214.70,607.06 214.19,607.96 212.67,608.20 M207.60,598.56 L214.50,597.64 M207.60,592.63 L217.04,599.14 C217.75,599.72 217.95,600.37 217.95,601.32 M214.70,592.72 L207.60,590.50 M214.70,586.80 L207.60,584.58 M211.15,591.61 L211.15,585.69 M211.15,577.63 C209.12,577.00 207.60,577.59 207.60,579.48 C207.60,581.38 209.12,582.92 211.15,583.56 C213.18,584.19 214.70,583.60 214.70,581.71 C214.70,579.81 213.18,578.27 211.15,577.63 L208.10,576.68 C205.77,575.95 204.55,576.52 204.55,578.41 C204.55,579.36 204.85,580.17 205.36,580.80 M207.60,574.39 L214.50,573.47 M207.60,568.47 L217.04,574.97 C217.75,575.55 217.95,576.21 217.95,577.16 M214.70,568.56 L207.60,566.34 M211.35,567.51 L211.35,565.97 L207.60,560.65 M211.35,565.97 L214.70,562.64" fill="none" stroke="#111" stroke-width="1.3" stroke-linecap="round" stroke-linejoin="round"/>
<path d="M225.75,596.65 L223.55,593.38 L233.55,596.04 M223.55,591.09 L223.55,586.22 L227.45,590.14 C227.45,587.95 228.65,587.28 230.55,587.78 C232.55,588.32 233.55,589.78 233.55,591.37 C233.55,592.56 233.05,593.32 232.05,593.65 M223.55,578.95 L223.55,583.23 L227.95,584.80 C227.45,584.07 227.15,583.20 227.15,582.30 C227.15,580.61 228.45,579.96 230.35,580.47 C232.35,581.00 233.55,582.42 233.55,584.11 C233.55,585.30 233.05,586.06 232.05,586.39 M223.55,574.13 C223.55,576.27 226.35,577.61 228.55,578.20 C230.75,578.78 233.55,578.93 233.55,576.80 C233.55,574.66 230.75,573.31 228.55,572.73 C226.35,572.14 223.55,571.99 223.55,574.13 L223.55,574.13" fill="none" stroke="#111" stroke-width="1.3" stroke-linecap="round" stroke-linejoin="round"/>
<path d="M257.41,591.91 C257.41,593.46 256.60,594.02 255.43,593.67 C254.26,593.32 253.45,592.18 253.45,590.73 C253.45,589.28 254.26,588.62 255.43,588.97 C256.60,589.32 257.41,590.36 257.41,591.91 C257.41,593.66 258.40,594.95 259.93,595.41 C261.55,595.89 262.45,595.16 262.45,593.41 C262.45,591.66 261.55,590.39 259.93,589.91 C258.40,589.45 257.41,590.16 257.41,591.91 L257.41,591.91 M261.73,588.05 C262.27,587.71 262.45,587.06 262.45,586.26 C262.45,584.36 260.65,582.83 257.95,582.02 C254.89,581.11 253.45,581.68 253.45,583.43 C253.45,585.18 254.62,586.53 256.15,586.99 C257.77,587.47 258.85,586.79 258.85,585.04 C258.85,583.59 258.04,582.35 256.69,581.65 M253.45,576.14 C253.45,578.29 255.97,579.64 257.95,580.23 C259.93,580.82 262.45,580.97 262.45,578.82 C262.45,576.67 259.93,575.32 257.95,574.73 C255.97,574.14 253.45,573.99 253.45,576.14 L253.45,576.14" fill="none" stroke="#111" stroke-width="1.3" stroke-linecap="round" stroke-linejoin="round"/>
<path d="M303.43,597.95 L301.45,594.53 L310.45,597.32 M310.45,590.97 L301.45,588.19 L307.75,594.40 L307.75,588.58 M303.25,585.11 C301.99,584.30 301.45,583.09 301.45,581.95 C301.45,580.29 302.35,579.63 303.79,580.07 C305.41,580.58 306.49,582.47 310.45,587.65 L310.45,581.93 M301.45,574.41 C301.45,576.65 303.97,578.05 305.95,578.66 C307.93,579.28 310.45,579.43 310.45,577.20 C310.45,574.96 307.93,573.56 305.95,572.94 C303.97,572.33 301.45,572.18 301.45,574.41 L301.45,574.41" fill="none" stroke="#111" stroke-width="1.3" stroke-linecap="round" stroke-linejoin="round"/>
<path d="M505.02,472.93 C505.78,471.68 506.91,471.15 507.97,471.15 C509.53,471.15 510.14,472.04 509.73,473.46 C509.26,475.07 507.49,476.13 502.65,480.05 L507.99,480.05 M515.02,471.15 C512.93,471.15 511.62,473.64 511.04,475.60 C510.47,477.56 510.33,480.05 512.41,480.05 C514.50,480.05 515.82,477.56 516.39,475.60 C516.96,473.64 517.11,471.15 515.02,471.15 L515.02,471.15 M522.11,471.15 C520.02,471.15 518.71,473.64 518.14,475.60 C517.56,477.56 517.42,480.05 519.51,480.05 C521.60,480.05 522.91,477.56 523.48,475.60 C524.05,473.64 524.20,471.15 522.11,471.15 L522.11,471.15" fill="none" stroke="#111" stroke-width="1.3" stroke-linecap="round" stroke-linejoin="round"/>
<path d="M381.95,609.55 L372.75,606.30 M374.56,606.94 C373.21,605.74 372.75,604.51 372.75,603.21 C372.75,601.18 374.11,600.83 375.91,601.47 C377.71,602.10 379.07,603.42 379.07,605.44 C379.07,606.75 378.61,607.66 377.26,607.89 M372.75,598.21 L378.88,597.29 M372.75,592.26 L381.14,598.80 C381.77,599.38 381.95,600.03 381.95,600.99 M379.07,592.35 L372.75,590.12 M379.07,586.41 L372.75,584.18 M375.91,591.24 L375.91,585.29 M375.91,577.20 C374.11,576.57 372.75,577.16 372.75,579.06 C372.75,580.96 374.11,582.51 375.91,583.15 C377.71,583.79 379.07,583.20 379.07,581.29 C379.07,579.39 377.71,577.84 375.91,577.20 L373.21,576.25 C371.13,575.51 370.05,576.08 370.05,577.99 C370.05,578.94 370.32,579.75 370.77,580.38 M372.75,573.95 L378.88,573.02 M372.75,568.00 L381.14,574.53 C381.77,575.11 381.95,575.77 381.95,576.72 M379.07,568.09 L372.75,565.86 M376.09,567.04 L376.09,565.49 L372.75,560.15 M376.09,565.49 L379.07,562.14" fill="none" stroke="#111" stroke-width="1.3" stroke-linecap="round" stroke-linejoin="round"/>
<path d="M402.61,598.35 L400.15,594.73 L411.35,597.68 M400.15,589.50 C400.15,591.86 403.29,593.35 405.75,594.00 C408.21,594.65 411.35,594.82 411.35,592.45 C411.35,590.08 408.21,588.59 405.75,587.94 C403.29,587.30 400.15,587.13 400.15,589.50 L400.15,589.50 M400.15,581.46 C400.15,583.83 403.29,585.31 405.75,585.96 C408.21,586.61 411.35,586.78 411.35,584.41 C411.35,582.04 408.21,580.56 405.75,579.91 C403.29,579.26 400.15,579.09 400.15,581.46 L400.15,581.46 M400.15,573.42 C400.15,575.79 403.29,577.27 405.75,577.92 C408.21,578.57 411.35,578.74 411.35,576.37 C411.35,574.00 408.21,572.52 405.75,571.87 C403.29,571.22 400.15,571.05 400.15,573.42 L400.15,573.42" fill="none" stroke="#111" stroke-width="1.3" stroke-linecap="round" stroke-linejoin="round"/>
<path d="M423.03,598.35 L420.65,594.73 L431.45,597.68 M422.81,592.79 C421.30,591.93 420.65,590.65 420.65,589.44 C420.65,587.68 421.73,586.98 423.46,587.46 C425.40,587.99 426.70,589.99 431.45,595.48 L431.45,589.42 M420.65,581.46 C420.65,583.83 423.67,585.31 426.05,585.96 C428.43,586.61 431.45,586.78 431.45,584.41 C431.45,582.04 428.43,580.56 426.05,579.91 C423.67,579.26 420.65,579.09 420.65,581.46 L420.65,581.46 M420.65,573.42 C420.65,575.79 423.67,577.27 426.05,577.92 C428.43,578.57 431.45,578.74 431.45,576.37 C431.45,574.00 428.43,572.52 426.05,571.87 C423.67,571.22 420.65,571.05 420.65,573.42 L420.65,573.42" fill="none" stroke="#111" stroke-width="1.3" stroke-linecap="round" stroke-linejoin="round"/>
<path d="M505.23,592.40 C505.23,594.08 504.24,594.69 502.79,594.31 C501.35,593.93 500.35,592.69 500.35,591.12 C500.35,589.55 501.35,588.83 502.79,589.21 C504.24,589.59 505.23,590.72 505.23,592.40 C505.23,594.30 506.45,595.70 508.34,596.19 C510.34,596.72 511.45,595.92 511.45,594.03 C511.45,592.13 510.34,590.75 508.34,590.23 C506.45,589.74 505.23,590.50 505.23,592.40 L505.23,592.40 M510.56,588.21 C511.23,587.84 511.45,587.14 511.45,586.27 C511.45,584.21 509.23,582.55 505.90,581.68 C502.13,580.69 500.35,581.31 500.35,583.21 C500.35,585.10 501.79,586.56 503.68,587.06 C505.68,587.58 507.01,586.85 507.01,584.95 C507.01,583.38 506.01,582.03 504.35,581.27 M500.35,575.29 C500.35,577.62 503.46,579.09 505.90,579.72 C508.34,580.36 511.45,580.53 511.45,578.20 C511.45,575.86 508.34,574.40 505.90,573.76 C503.46,573.12 500.35,572.96 500.35,575.29 L500.35,575.29" fill="none" stroke="#111" stroke-width="1.3" stroke-linecap="round" stroke-linejoin="round"/>
<path d="M531.65,588.32 L531.65,592.94 L536.49,594.63 C535.94,593.84 535.61,592.90 535.61,591.93 C535.61,590.11 537.04,589.41 539.13,589.95 C541.33,590.53 542.65,592.06 542.65,593.88 C542.65,595.17 542.10,595.99 541.00,596.35 M533.85,586.32 C532.31,585.49 531.65,584.24 531.65,583.06 C531.65,581.34 532.75,580.66 534.51,581.12 C536.49,581.64 537.81,583.60 542.65,588.94 L542.65,583.04 M531.65,575.27 C531.65,577.58 534.73,579.03 537.15,579.66 C539.57,580.30 542.65,580.46 542.65,578.15 C542.65,575.84 539.57,574.39 537.15,573.76 C534.73,573.12 531.65,572.96 531.65,575.27 L531.65,575.27" fill="none" stroke="#111" stroke-width="1.3" stroke-linecap="round" stroke-linejoin="round"/>
<path d="M565.15,609.55 L555.72,606.30 M557.57,606.94 C556.18,605.74 555.72,604.51 555.72,603.21 C555.72,601.18 557.11,600.83 558.96,601.47 C560.81,602.10 562.19,603.42 562.19,605.44 C562.19,606.75 561.73,607.66 560.34,607.89 M555.72,598.21 L562.01,597.29 M555.72,592.26 L564.32,598.80 C564.97,599.38 565.15,600.03 565.15,600.99 M562.19,592.35 L555.72,590.12 M562.19,586.41 L555.72,584.18 M558.96,591.24 L558.96,585.29 M558.96,577.20 C557.11,576.57 555.72,577.16 555.72,579.06 C555.72,580.96 557.11,582.51 558.96,583.15 C560.81,583.79 562.19,583.20 562.19,581.29 C562.19,579.39 560.81,577.84 558.96,577.20 L556.18,576.25 C554.06,575.51 552.95,576.08 552.95,577.99 C552.95,578.94 553.23,579.75 553.69,580.38 M555.72,573.95 L562.01,573.02 M555.72,568.00 L564.32,574.53 C564.97,575.11 565.15,575.77 565.15,576.72 M562.19,568.09 L555.72,565.86 M559.14,567.04 L559.14,565.49 L555.72,560.15 M559.14,565.49 L562.19,562.14" fill="none" stroke="#111" stroke-width="1.3" stroke-linecap="round" stroke-linejoin="round"/>
<path d="M363.21,704.65 L368.09,704.65 L364.16,708.59 C366.35,708.59 367.03,709.80 366.52,711.72 C365.99,713.74 364.53,714.75 362.94,714.75 C361.74,714.75 360.98,714.25 360.65,713.24 M370.18,704.65 L375.65,704.65 L369.10,714.75 M380.17,704.65 C378.03,704.65 376.69,707.48 376.10,709.70 C375.52,711.92 375.37,714.75 377.51,714.75 C379.64,714.75 380.99,711.92 381.57,709.70 C382.16,707.48 382.31,704.65 380.17,704.65 L380.17,704.65" fill="none" stroke="#111" stroke-width="1.3" stroke-linecap="round" stroke-linejoin="round"/>
<path d="M389.59,736.05 L392.31,726.15 L386.25,733.08 L391.93,733.08 M395.85,726.15 L400.82,726.15 L396.82,730.01 C399.05,730.01 399.74,731.20 399.22,733.08 C398.68,735.06 397.19,736.05 395.57,736.05 C394.35,736.05 393.58,735.56 393.24,734.57 M405.74,726.15 C403.56,726.15 402.19,728.92 401.59,731.10 C400.99,733.28 400.84,736.05 403.02,736.05 C405.20,736.05 406.57,733.28 407.17,731.10 C407.76,728.92 407.92,726.15 405.74,726.15 L405.74,726.15 M413.14,726.15 C410.96,726.15 409.59,728.92 408.99,731.10 C408.39,733.28 408.24,736.05 410.42,736.05 C412.60,736.05 413.97,733.28 414.57,731.10 C415.16,728.92 415.32,726.15 413.14,726.15 L413.14,726.15" fill="none" stroke="#111" stroke-width="1.3" stroke-linecap="round" stroke-linejoin="round"/>
<path d="M545.20,714.75 L548.09,704.65 L541.65,711.72 L547.69,711.72 M551.55,706.87 L555.10,704.65 L552.21,714.75 M560.22,704.65 C557.90,704.65 556.45,707.48 555.81,709.70 C555.18,711.92 555.01,714.75 557.33,714.75 C559.65,714.75 561.11,711.92 561.74,709.70 C562.38,707.48 562.54,704.65 560.22,704.65 L560.22,704.65" fill="none" stroke="#111" stroke-width="1.3" stroke-linecap="round" stroke-linejoin="round"/>
<path d="M701.85,588.46 L701.85,592.94 L706.07,594.59 C705.59,593.82 705.31,592.90 705.31,591.97 C705.31,590.20 706.55,589.52 708.38,590.05 C710.30,590.61 711.45,592.09 711.45,593.86 C711.45,595.11 710.97,595.90 710.01,596.25 M711.45,584.80 L701.85,582.01 L708.57,588.23 L708.57,582.40 M701.85,575.81 C701.85,578.05 704.54,579.46 706.65,580.07 C708.76,580.69 711.45,580.84 711.45,578.60 C711.45,576.37 708.76,574.96 706.65,574.35 C704.54,573.73 701.85,573.57 701.85,575.81 L701.85,575.81" fill="none" stroke="#111" stroke-width="1.3" stroke-linecap="round" stroke-linejoin="round"/>
<path d="M599.13,682.75 L603.85,682.75 L600.05,686.49 C602.17,686.49 602.82,687.65 602.33,689.47 C601.82,691.39 600.40,692.35 598.86,692.35 C597.71,692.35 596.97,691.87 596.65,690.91 M605.88,684.86 L609.05,682.75 L606.47,692.35 M613.63,682.75 C611.56,682.75 610.26,685.44 609.69,687.55 C609.12,689.66 608.98,692.35 611.05,692.35 C613.12,692.35 614.42,689.66 614.98,687.55 C615.55,685.44 615.70,682.75 613.63,682.75 L613.63,682.75" fill="none" stroke="#111" stroke-width="1.3" stroke-linecap="round" stroke-linejoin="round"/>
<path d="M616.57,704.55 L612.48,704.55 L610.97,709.21 C611.67,708.68 612.51,708.37 613.37,708.37 C614.99,708.37 615.61,709.74 615.12,711.76 C614.61,713.88 613.26,715.15 611.64,715.15 C610.50,715.15 609.77,714.62 609.45,713.56 M620.07,709.21 C618.59,709.21 618.06,708.26 618.39,706.88 C618.72,705.50 619.81,704.55 621.19,704.55 C622.57,704.55 623.20,705.50 622.87,706.88 C622.54,708.26 621.55,709.21 620.07,709.21 C618.40,709.21 617.17,710.38 616.74,712.18 C616.28,714.09 616.97,715.15 618.64,715.15 C620.31,715.15 621.51,714.09 621.97,712.18 C622.41,710.38 621.74,709.21 620.07,709.21 L620.07,709.21 M628.15,704.55 C626.10,704.55 624.81,707.52 624.25,709.85 C623.69,712.18 623.54,715.15 625.59,715.15 C627.64,715.15 628.93,712.18 629.49,709.85 C630.05,707.52 630.19,704.55 628.15,704.55 L628.15,704.55" fill="none" stroke="#111" stroke-width="1.3" stroke-linecap="round" stroke-linejoin="round"/>
<path d="M800.59,626.75 L805.58,608.95 L794.45,621.41 L804.88,621.41 M812.09,608.95 L821.21,608.95 L813.87,615.89 C817.97,615.89 819.23,618.03 818.28,621.41 C817.28,624.97 814.55,626.75 811.57,626.75 C809.34,626.75 807.91,625.86 807.29,624.08 M830.24,608.95 C826.24,608.95 823.73,613.93 822.63,617.85 C821.53,621.77 821.25,626.75 825.25,626.75 C829.26,626.75 831.77,621.77 832.87,617.85 C833.97,613.93 834.25,608.95 830.24,608.95 L830.24,608.95 M842.66,626.75 L847.65,608.95 L854.17,608.95 C856.96,608.95 858.32,610.73 857.52,613.58 C856.73,616.43 854.37,618.21 851.57,618.21 L845.06,618.21" fill="none" stroke="#111" stroke-width="1.9" stroke-linecap="round" stroke-linejoin="round"/>
</svg>
</body></html>
